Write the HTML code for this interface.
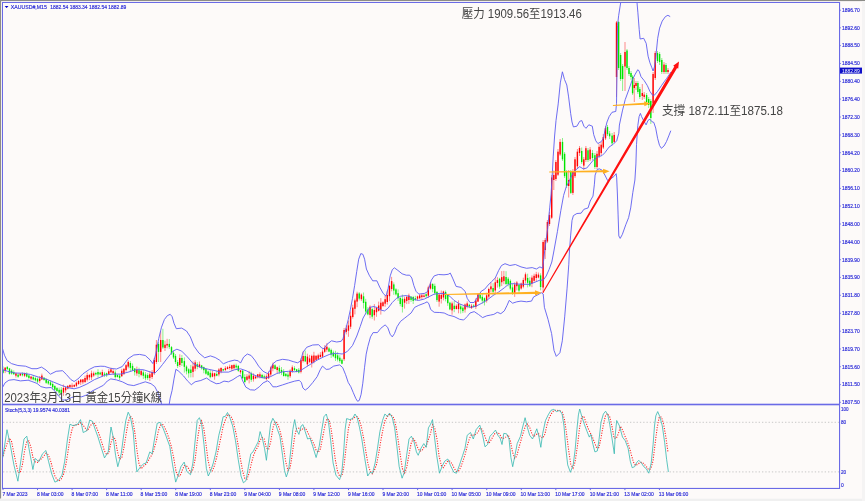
<!DOCTYPE html><html><head><meta charset="utf-8"><title>XAUUSD M15</title><style>html,body{margin:0;padding:0;background:#fdfaf9;overflow:hidden}body{width:865px;height:501px}</style></head><body><svg width="865" height="501" viewBox="0 0 865 501" style="display:block">
<rect width="865" height="501" fill="#fdfaf9"/>
<rect x="0" y="0" width="865" height="1.1" fill="#8c8c88"/>
<rect x="0" y="0" width="1.1" height="498.7" fill="#8c8c88"/>
<rect x="0" y="498.7" width="865" height="2.3" fill="#f0f0f0"/>
<rect x="862" y="1.1" width="3" height="500" fill="#f5f4f4"/>
<defs><clipPath id="cm"><rect x="2.5" y="2.5" width="836.5" height="401.5"/></clipPath><clipPath id="cs"><rect x="2.5" y="405" width="836.5" height="83"/></clipPath></defs>
<g clip-path="url(#cm)">
<line x1="3.00" y1="366.4" x2="3.00" y2="373.6" stroke="#00e400" stroke-width="0.6" stroke-opacity="0.75"/>
<rect x="2.30" y="369.9" width="1.4" height="2.9" fill="#00e400"/>
<line x1="5.16" y1="367.1" x2="5.16" y2="373.1" stroke="#ff0000" stroke-width="0.6" stroke-opacity="0.75"/>
<rect x="4.46" y="367.7" width="1.4" height="3.3" fill="#ff0000"/>
<line x1="7.32" y1="366.3" x2="7.32" y2="369.7" stroke="#00e400" stroke-width="0.6" stroke-opacity="0.75"/>
<rect x="6.62" y="366.8" width="1.4" height="2.4" fill="#00e400"/>
<line x1="9.48" y1="367.9" x2="9.48" y2="374.6" stroke="#00e400" stroke-width="0.6" stroke-opacity="0.75"/>
<rect x="8.78" y="368.4" width="1.4" height="5.4" fill="#00e400"/>
<line x1="11.64" y1="369.2" x2="11.64" y2="374.7" stroke="#00e400" stroke-width="0.6" stroke-opacity="0.75"/>
<rect x="10.94" y="370.6" width="1.4" height="3.0" fill="#00e400"/>
<line x1="13.79" y1="370.3" x2="13.79" y2="375.0" stroke="#00e400" stroke-width="0.6" stroke-opacity="0.75"/>
<rect x="13.09" y="372.3" width="1.4" height="1.9" fill="#00e400"/>
<line x1="15.95" y1="372.6" x2="15.95" y2="377.6" stroke="#ff0000" stroke-width="0.6" stroke-opacity="0.75"/>
<rect x="15.25" y="373.4" width="1.4" height="2.3" fill="#ff0000"/>
<line x1="18.11" y1="373.1" x2="18.11" y2="377.8" stroke="#00e400" stroke-width="0.6" stroke-opacity="0.75"/>
<rect x="17.41" y="374.6" width="1.4" height="2.2" fill="#00e400"/>
<line x1="20.27" y1="373.3" x2="20.27" y2="376.2" stroke="#ff0000" stroke-width="0.6" stroke-opacity="0.75"/>
<rect x="19.57" y="373.6" width="1.4" height="1.9" fill="#ff0000"/>
<line x1="22.43" y1="372.3" x2="22.43" y2="376.5" stroke="#00e400" stroke-width="0.6" stroke-opacity="0.75"/>
<rect x="21.73" y="373.7" width="1.4" height="1.6" fill="#00e400"/>
<line x1="24.59" y1="372.6" x2="24.59" y2="377.1" stroke="#ff0000" stroke-width="0.6" stroke-opacity="0.75"/>
<rect x="23.89" y="373.3" width="1.4" height="2.4" fill="#ff0000"/>
<line x1="26.75" y1="372.2" x2="26.75" y2="377.5" stroke="#00e400" stroke-width="0.6" stroke-opacity="0.75"/>
<rect x="26.05" y="373.9" width="1.4" height="2.8" fill="#00e400"/>
<line x1="28.91" y1="374.4" x2="28.91" y2="379.6" stroke="#00e400" stroke-width="0.6" stroke-opacity="0.75"/>
<rect x="28.21" y="375.5" width="1.4" height="2.4" fill="#00e400"/>
<line x1="31.07" y1="376.3" x2="31.07" y2="380.1" stroke="#ff0000" stroke-width="0.6" stroke-opacity="0.75"/>
<rect x="30.37" y="376.6" width="1.4" height="2.0" fill="#ff0000"/>
<line x1="33.23" y1="375.2" x2="33.23" y2="380.3" stroke="#00e400" stroke-width="0.6" stroke-opacity="0.75"/>
<rect x="32.53" y="377.2" width="1.4" height="2.2" fill="#00e400"/>
<line x1="35.38" y1="376.7" x2="35.38" y2="381.5" stroke="#00e400" stroke-width="0.6" stroke-opacity="0.75"/>
<rect x="34.68" y="378.1" width="1.4" height="2.2" fill="#00e400"/>
<line x1="37.54" y1="377.5" x2="37.54" y2="383.2" stroke="#00e400" stroke-width="0.6" stroke-opacity="0.75"/>
<rect x="36.84" y="378.7" width="1.4" height="2.9" fill="#00e400"/>
<line x1="39.70" y1="376.0" x2="39.70" y2="383.2" stroke="#ff0000" stroke-width="0.6" stroke-opacity="0.75"/>
<rect x="39.00" y="378.5" width="1.4" height="2.6" fill="#ff0000"/>
<line x1="41.86" y1="373.6" x2="41.86" y2="379.8" stroke="#ff0000" stroke-width="0.6" stroke-opacity="0.75"/>
<rect x="41.16" y="375.6" width="1.4" height="3.9" fill="#ff0000"/>
<line x1="44.02" y1="377.2" x2="44.02" y2="380.5" stroke="#00e400" stroke-width="0.6" stroke-opacity="0.75"/>
<rect x="43.32" y="377.7" width="1.4" height="2.4" fill="#00e400"/>
<line x1="46.18" y1="378.4" x2="46.18" y2="383.9" stroke="#00e400" stroke-width="0.6" stroke-opacity="0.75"/>
<rect x="45.48" y="379.2" width="1.4" height="3.6" fill="#00e400"/>
<line x1="48.34" y1="380.1" x2="48.34" y2="384.9" stroke="#00e400" stroke-width="0.6" stroke-opacity="0.75"/>
<rect x="47.64" y="381.2" width="1.4" height="2.3" fill="#00e400"/>
<line x1="50.50" y1="380.4" x2="50.50" y2="385.9" stroke="#00e400" stroke-width="0.6" stroke-opacity="0.75"/>
<rect x="49.80" y="382.4" width="1.4" height="2.7" fill="#00e400"/>
<line x1="52.66" y1="382.0" x2="52.66" y2="389.5" stroke="#00e400" stroke-width="0.6" stroke-opacity="0.75"/>
<rect x="51.96" y="384.0" width="1.4" height="3.3" fill="#00e400"/>
<line x1="54.82" y1="385.1" x2="54.82" y2="390.5" stroke="#00e400" stroke-width="0.6" stroke-opacity="0.75"/>
<rect x="54.12" y="386.0" width="1.4" height="3.7" fill="#00e400"/>
<line x1="56.97" y1="387.0" x2="56.97" y2="391.6" stroke="#00e400" stroke-width="0.6" stroke-opacity="0.75"/>
<rect x="56.27" y="388.1" width="1.4" height="3.1" fill="#00e400"/>
<line x1="59.13" y1="387.6" x2="59.13" y2="396.0" stroke="#00e400" stroke-width="0.6" stroke-opacity="0.75"/>
<rect x="58.43" y="389.8" width="1.4" height="2.8" fill="#00e400"/>
<line x1="61.29" y1="387.0" x2="61.29" y2="394.3" stroke="#00e400" stroke-width="0.6" stroke-opacity="0.75"/>
<rect x="60.59" y="389.7" width="1.4" height="3.9" fill="#00e400"/>
<line x1="63.45" y1="384.5" x2="63.45" y2="395.8" stroke="#ff0000" stroke-width="0.6" stroke-opacity="0.75"/>
<rect x="62.75" y="388.0" width="1.4" height="4.6" fill="#ff0000"/>
<line x1="65.61" y1="386.6" x2="65.61" y2="392.8" stroke="#ff0000" stroke-width="0.6" stroke-opacity="0.75"/>
<rect x="64.91" y="387.4" width="1.4" height="2.9" fill="#ff0000"/>
<line x1="67.77" y1="385.0" x2="67.77" y2="389.4" stroke="#ff0000" stroke-width="0.6" stroke-opacity="0.75"/>
<rect x="67.07" y="386.0" width="1.4" height="2.6" fill="#ff0000"/>
<line x1="69.93" y1="384.6" x2="69.93" y2="387.8" stroke="#ff0000" stroke-width="0.6" stroke-opacity="0.75"/>
<rect x="69.23" y="384.9" width="1.4" height="2.2" fill="#ff0000"/>
<line x1="72.09" y1="383.3" x2="72.09" y2="388.1" stroke="#ff0000" stroke-width="0.6" stroke-opacity="0.75"/>
<rect x="71.39" y="385.5" width="1.4" height="1.1" fill="#ff0000"/>
<line x1="74.25" y1="384.1" x2="74.25" y2="387.2" stroke="#ff0000" stroke-width="0.6" stroke-opacity="0.75"/>
<rect x="73.55" y="385.0" width="1.4" height="1.7" fill="#ff0000"/>
<line x1="76.41" y1="381.5" x2="76.41" y2="387.0" stroke="#ff0000" stroke-width="0.6" stroke-opacity="0.75"/>
<rect x="75.71" y="382.7" width="1.4" height="3.1" fill="#ff0000"/>
<line x1="78.56" y1="379.9" x2="78.56" y2="384.9" stroke="#ff0000" stroke-width="0.6" stroke-opacity="0.75"/>
<rect x="77.86" y="381.0" width="1.4" height="3.0" fill="#ff0000"/>
<line x1="80.72" y1="379.2" x2="80.72" y2="385.0" stroke="#ff0000" stroke-width="0.6" stroke-opacity="0.75"/>
<rect x="80.02" y="379.6" width="1.4" height="2.7" fill="#ff0000"/>
<line x1="82.88" y1="379.0" x2="82.88" y2="384.2" stroke="#ff0000" stroke-width="0.6" stroke-opacity="0.75"/>
<rect x="82.18" y="379.4" width="1.4" height="2.9" fill="#ff0000"/>
<line x1="85.04" y1="375.6" x2="85.04" y2="383.1" stroke="#ff0000" stroke-width="0.6" stroke-opacity="0.75"/>
<rect x="84.34" y="378.0" width="1.4" height="4.0" fill="#ff0000"/>
<line x1="87.20" y1="372.5" x2="87.20" y2="381.5" stroke="#ff0000" stroke-width="0.6" stroke-opacity="0.75"/>
<rect x="86.50" y="375.1" width="1.4" height="4.5" fill="#ff0000"/>
<line x1="89.36" y1="374.0" x2="89.36" y2="380.2" stroke="#ff0000" stroke-width="0.6" stroke-opacity="0.75"/>
<rect x="88.66" y="375.0" width="1.4" height="2.4" fill="#ff0000"/>
<line x1="91.52" y1="370.6" x2="91.52" y2="380.0" stroke="#ff0000" stroke-width="0.6" stroke-opacity="0.75"/>
<rect x="90.82" y="373.3" width="1.4" height="4.0" fill="#ff0000"/>
<line x1="93.68" y1="371.6" x2="93.68" y2="376.9" stroke="#ff0000" stroke-width="0.6" stroke-opacity="0.75"/>
<rect x="92.98" y="373.4" width="1.4" height="2.1" fill="#ff0000"/>
<line x1="95.84" y1="371.8" x2="95.84" y2="375.5" stroke="#00e400" stroke-width="0.6" stroke-opacity="0.75"/>
<rect x="95.14" y="373.0" width="1.4" height="1.4" fill="#00e400"/>
<line x1="98.00" y1="369.2" x2="98.00" y2="377.6" stroke="#00e400" stroke-width="0.6" stroke-opacity="0.75"/>
<rect x="97.30" y="372.0" width="1.4" height="2.5" fill="#00e400"/>
<line x1="100.15" y1="371.7" x2="100.15" y2="375.3" stroke="#00e400" stroke-width="0.6" stroke-opacity="0.75"/>
<rect x="99.45" y="372.6" width="1.4" height="1.8" fill="#00e400"/>
<line x1="102.31" y1="369.7" x2="102.31" y2="377.0" stroke="#ff0000" stroke-width="0.6" stroke-opacity="0.75"/>
<rect x="101.61" y="372.1" width="1.4" height="3.5" fill="#ff0000"/>
<line x1="104.47" y1="371.9" x2="104.47" y2="377.1" stroke="#00e400" stroke-width="0.6" stroke-opacity="0.75"/>
<rect x="103.77" y="373.6" width="1.4" height="1.3" fill="#00e400"/>
<line x1="106.63" y1="372.6" x2="106.63" y2="377.0" stroke="#00e400" stroke-width="0.6" stroke-opacity="0.75"/>
<rect x="105.93" y="373.2" width="1.4" height="2.0" fill="#00e400"/>
<line x1="108.79" y1="369.0" x2="108.79" y2="375.0" stroke="#ff0000" stroke-width="0.6" stroke-opacity="0.75"/>
<rect x="108.09" y="371.2" width="1.4" height="2.7" fill="#ff0000"/>
<line x1="110.95" y1="367.7" x2="110.95" y2="372.9" stroke="#ff0000" stroke-width="0.6" stroke-opacity="0.75"/>
<rect x="110.25" y="369.4" width="1.4" height="2.9" fill="#ff0000"/>
<line x1="113.11" y1="369.0" x2="113.11" y2="374.9" stroke="#ff0000" stroke-width="0.6" stroke-opacity="0.75"/>
<rect x="112.41" y="371.1" width="1.4" height="2.0" fill="#ff0000"/>
<line x1="115.27" y1="370.3" x2="115.27" y2="378.7" stroke="#00e400" stroke-width="0.6" stroke-opacity="0.75"/>
<rect x="114.57" y="372.5" width="1.4" height="4.6" fill="#00e400"/>
<line x1="117.43" y1="374.5" x2="117.43" y2="377.4" stroke="#00e400" stroke-width="0.6" stroke-opacity="0.75"/>
<rect x="116.73" y="375.0" width="1.4" height="2.1" fill="#00e400"/>
<line x1="119.59" y1="374.3" x2="119.59" y2="380.0" stroke="#00e400" stroke-width="0.6" stroke-opacity="0.75"/>
<rect x="118.89" y="375.6" width="1.4" height="2.3" fill="#00e400"/>
<line x1="121.74" y1="368.8" x2="121.74" y2="376.9" stroke="#ff0000" stroke-width="0.6" stroke-opacity="0.75"/>
<rect x="121.04" y="370.7" width="1.4" height="5.5" fill="#ff0000"/>
<line x1="123.90" y1="368.0" x2="123.90" y2="374.9" stroke="#ff0000" stroke-width="0.6" stroke-opacity="0.75"/>
<rect x="123.20" y="368.9" width="1.4" height="5.2" fill="#ff0000"/>
<line x1="126.06" y1="364.1" x2="126.06" y2="371.6" stroke="#ff0000" stroke-width="0.6" stroke-opacity="0.75"/>
<rect x="125.36" y="365.2" width="1.4" height="4.9" fill="#ff0000"/>
<line x1="128.22" y1="360.3" x2="128.22" y2="368.4" stroke="#ff0000" stroke-width="0.6" stroke-opacity="0.75"/>
<rect x="127.52" y="361.9" width="1.4" height="4.7" fill="#ff0000"/>
<line x1="130.38" y1="361.1" x2="130.38" y2="371.6" stroke="#00e400" stroke-width="0.6" stroke-opacity="0.75"/>
<rect x="129.68" y="363.0" width="1.4" height="4.9" fill="#00e400"/>
<line x1="132.54" y1="363.5" x2="132.54" y2="370.9" stroke="#00e400" stroke-width="0.6" stroke-opacity="0.75"/>
<rect x="131.84" y="365.9" width="1.4" height="4.5" fill="#00e400"/>
<line x1="134.70" y1="368.0" x2="134.70" y2="375.6" stroke="#00e400" stroke-width="0.6" stroke-opacity="0.75"/>
<rect x="134.00" y="368.5" width="1.4" height="3.7" fill="#00e400"/>
<line x1="136.86" y1="366.6" x2="136.86" y2="375.9" stroke="#ff0000" stroke-width="0.6" stroke-opacity="0.75"/>
<rect x="136.16" y="369.8" width="1.4" height="3.6" fill="#ff0000"/>
<line x1="139.02" y1="367.7" x2="139.02" y2="377.3" stroke="#00e400" stroke-width="0.6" stroke-opacity="0.75"/>
<rect x="138.32" y="370.2" width="1.4" height="3.7" fill="#00e400"/>
<line x1="141.18" y1="369.8" x2="141.18" y2="376.3" stroke="#ff0000" stroke-width="0.6" stroke-opacity="0.75"/>
<rect x="140.48" y="371.1" width="1.4" height="3.8" fill="#ff0000"/>
<line x1="143.33" y1="370.1" x2="143.33" y2="378.9" stroke="#00e400" stroke-width="0.6" stroke-opacity="0.75"/>
<rect x="142.63" y="372.4" width="1.4" height="3.4" fill="#00e400"/>
<line x1="145.49" y1="372.1" x2="145.49" y2="380.2" stroke="#00e400" stroke-width="0.6" stroke-opacity="0.75"/>
<rect x="144.79" y="374.5" width="1.4" height="3.7" fill="#00e400"/>
<line x1="147.65" y1="373.1" x2="147.65" y2="380.0" stroke="#00e400" stroke-width="0.6" stroke-opacity="0.75"/>
<rect x="146.95" y="375.1" width="1.4" height="3.0" fill="#00e400"/>
<line x1="149.81" y1="371.3" x2="149.81" y2="381.0" stroke="#ff0000" stroke-width="0.6" stroke-opacity="0.75"/>
<rect x="149.11" y="374.3" width="1.4" height="3.6" fill="#ff0000"/>
<line x1="184.36" y1="357.4" x2="184.36" y2="372.6" stroke="#00e400" stroke-width="0.6" stroke-opacity="0.75"/>
<rect x="183.66" y="361.1" width="1.4" height="5.7" fill="#00e400"/>
<line x1="186.51" y1="365.3" x2="186.51" y2="374.4" stroke="#00e400" stroke-width="0.6" stroke-opacity="0.75"/>
<rect x="185.81" y="366.6" width="1.4" height="4.7" fill="#00e400"/>
<line x1="188.67" y1="368.2" x2="188.67" y2="377.7" stroke="#00e400" stroke-width="0.6" stroke-opacity="0.75"/>
<rect x="187.97" y="369.3" width="1.4" height="4.0" fill="#00e400"/>
<line x1="190.83" y1="364.9" x2="190.83" y2="377.4" stroke="#00e400" stroke-width="0.6" stroke-opacity="0.75"/>
<rect x="190.13" y="369.5" width="1.4" height="3.5" fill="#00e400"/>
<line x1="192.99" y1="361.4" x2="192.99" y2="377.3" stroke="#ff0000" stroke-width="0.6" stroke-opacity="0.75"/>
<rect x="192.29" y="366.4" width="1.4" height="5.5" fill="#ff0000"/>
<line x1="195.15" y1="360.2" x2="195.15" y2="371.2" stroke="#ff0000" stroke-width="0.6" stroke-opacity="0.75"/>
<rect x="194.45" y="362.4" width="1.4" height="6.3" fill="#ff0000"/>
<line x1="197.31" y1="362.2" x2="197.31" y2="369.2" stroke="#00e400" stroke-width="0.6" stroke-opacity="0.75"/>
<rect x="196.61" y="364.3" width="1.4" height="2.5" fill="#00e400"/>
<line x1="199.47" y1="361.5" x2="199.47" y2="367.6" stroke="#ff0000" stroke-width="0.6" stroke-opacity="0.75"/>
<rect x="198.77" y="364.4" width="1.4" height="2.8" fill="#ff0000"/>
<line x1="201.63" y1="364.9" x2="201.63" y2="369.7" stroke="#00e400" stroke-width="0.6" stroke-opacity="0.75"/>
<rect x="200.93" y="365.4" width="1.4" height="2.9" fill="#00e400"/>
<line x1="203.79" y1="366.6" x2="203.79" y2="373.3" stroke="#00e400" stroke-width="0.6" stroke-opacity="0.75"/>
<rect x="203.09" y="367.1" width="1.4" height="3.1" fill="#00e400"/>
<line x1="205.95" y1="368.5" x2="205.95" y2="374.7" stroke="#00e400" stroke-width="0.6" stroke-opacity="0.75"/>
<rect x="205.25" y="369.1" width="1.4" height="4.6" fill="#00e400"/>
<line x1="208.10" y1="370.4" x2="208.10" y2="375.9" stroke="#00e400" stroke-width="0.6" stroke-opacity="0.75"/>
<rect x="207.41" y="371.5" width="1.4" height="3.6" fill="#00e400"/>
<line x1="210.26" y1="369.9" x2="210.26" y2="378.4" stroke="#00e400" stroke-width="0.6" stroke-opacity="0.75"/>
<rect x="209.56" y="372.8" width="1.4" height="4.4" fill="#00e400"/>
<line x1="212.42" y1="370.7" x2="212.42" y2="377.3" stroke="#ff0000" stroke-width="0.6" stroke-opacity="0.75"/>
<rect x="211.72" y="373.3" width="1.4" height="3.4" fill="#ff0000"/>
<line x1="214.58" y1="372.7" x2="214.58" y2="379.7" stroke="#ff0000" stroke-width="0.6" stroke-opacity="0.75"/>
<rect x="213.88" y="373.3" width="1.4" height="3.0" fill="#ff0000"/>
<line x1="216.74" y1="370.8" x2="216.74" y2="376.3" stroke="#00e400" stroke-width="0.6" stroke-opacity="0.75"/>
<rect x="216.04" y="373.9" width="1.4" height="1.8" fill="#00e400"/>
<line x1="218.90" y1="368.1" x2="218.90" y2="376.4" stroke="#ff0000" stroke-width="0.6" stroke-opacity="0.75"/>
<rect x="218.20" y="369.5" width="1.4" height="4.9" fill="#ff0000"/>
<line x1="221.06" y1="367.3" x2="221.06" y2="373.3" stroke="#ff0000" stroke-width="0.6" stroke-opacity="0.75"/>
<rect x="220.36" y="368.0" width="1.4" height="3.6" fill="#ff0000"/>
<line x1="223.22" y1="368.7" x2="223.22" y2="371.2" stroke="#00e400" stroke-width="0.6" stroke-opacity="0.75"/>
<rect x="222.52" y="369.1" width="1.4" height="1.4" fill="#00e400"/>
<line x1="225.38" y1="366.2" x2="225.38" y2="371.0" stroke="#ff0000" stroke-width="0.6" stroke-opacity="0.75"/>
<rect x="224.68" y="368.2" width="1.4" height="1.8" fill="#ff0000"/>
<line x1="227.54" y1="366.0" x2="227.54" y2="369.3" stroke="#ff0000" stroke-width="0.6" stroke-opacity="0.75"/>
<rect x="226.84" y="367.2" width="1.4" height="1.8" fill="#ff0000"/>
<line x1="229.69" y1="364.6" x2="229.69" y2="369.7" stroke="#ff0000" stroke-width="0.6" stroke-opacity="0.75"/>
<rect x="229.00" y="366.8" width="1.4" height="1.2" fill="#ff0000"/>
<line x1="231.85" y1="364.7" x2="231.85" y2="371.0" stroke="#ff0000" stroke-width="0.6" stroke-opacity="0.75"/>
<rect x="231.15" y="365.2" width="1.4" height="3.5" fill="#ff0000"/>
<line x1="234.01" y1="363.8" x2="234.01" y2="369.6" stroke="#ff0000" stroke-width="0.6" stroke-opacity="0.75"/>
<rect x="233.31" y="365.0" width="1.4" height="3.2" fill="#ff0000"/>
<line x1="236.17" y1="363.6" x2="236.17" y2="369.2" stroke="#00e400" stroke-width="0.6" stroke-opacity="0.75"/>
<rect x="235.47" y="365.6" width="1.4" height="1.8" fill="#00e400"/>
<line x1="238.33" y1="364.9" x2="238.33" y2="371.8" stroke="#00e400" stroke-width="0.6" stroke-opacity="0.75"/>
<rect x="237.63" y="365.9" width="1.4" height="4.9" fill="#00e400"/>
<line x1="240.49" y1="370.0" x2="240.49" y2="373.9" stroke="#ff0000" stroke-width="0.6" stroke-opacity="0.75"/>
<rect x="239.79" y="370.4" width="1.4" height="1.8" fill="#ff0000"/>
<line x1="242.65" y1="369.9" x2="242.65" y2="378.8" stroke="#00e400" stroke-width="0.6" stroke-opacity="0.75"/>
<rect x="241.95" y="370.7" width="1.4" height="7.6" fill="#00e400"/>
<line x1="244.81" y1="374.1" x2="244.81" y2="383.4" stroke="#00e400" stroke-width="0.6" stroke-opacity="0.75"/>
<rect x="244.11" y="377.0" width="1.4" height="5.0" fill="#00e400"/>
<line x1="246.97" y1="374.1" x2="246.97" y2="380.9" stroke="#ff0000" stroke-width="0.6" stroke-opacity="0.75"/>
<rect x="246.27" y="376.5" width="1.4" height="3.3" fill="#ff0000"/>
<line x1="249.13" y1="370.8" x2="249.13" y2="383.4" stroke="#ff0000" stroke-width="0.6" stroke-opacity="0.75"/>
<rect x="248.43" y="375.5" width="1.4" height="3.2" fill="#ff0000"/>
<line x1="251.28" y1="371.7" x2="251.28" y2="381.9" stroke="#00e400" stroke-width="0.6" stroke-opacity="0.75"/>
<rect x="250.58" y="373.5" width="1.4" height="6.3" fill="#00e400"/>
<line x1="253.44" y1="373.3" x2="253.44" y2="381.6" stroke="#ff0000" stroke-width="0.6" stroke-opacity="0.75"/>
<rect x="252.74" y="375.7" width="1.4" height="3.5" fill="#ff0000"/>
<line x1="255.60" y1="375.3" x2="255.60" y2="379.1" stroke="#ff0000" stroke-width="0.6" stroke-opacity="0.75"/>
<rect x="254.90" y="376.6" width="1.4" height="1.7" fill="#ff0000"/>
<line x1="257.76" y1="373.9" x2="257.76" y2="378.4" stroke="#ff0000" stroke-width="0.6" stroke-opacity="0.75"/>
<rect x="257.06" y="374.3" width="1.4" height="2.9" fill="#ff0000"/>
<line x1="259.92" y1="372.3" x2="259.92" y2="378.5" stroke="#ff0000" stroke-width="0.6" stroke-opacity="0.75"/>
<rect x="259.22" y="374.3" width="1.4" height="2.4" fill="#ff0000"/>
<line x1="262.08" y1="373.8" x2="262.08" y2="378.5" stroke="#00e400" stroke-width="0.6" stroke-opacity="0.75"/>
<rect x="261.38" y="374.9" width="1.4" height="2.8" fill="#00e400"/>
<line x1="264.24" y1="374.6" x2="264.24" y2="379.1" stroke="#00e400" stroke-width="0.6" stroke-opacity="0.75"/>
<rect x="263.54" y="376.3" width="1.4" height="1.3" fill="#00e400"/>
<line x1="266.40" y1="374.3" x2="266.40" y2="380.5" stroke="#ff0000" stroke-width="0.6" stroke-opacity="0.75"/>
<rect x="265.70" y="376.3" width="1.4" height="2.7" fill="#ff0000"/>
<line x1="268.56" y1="371.5" x2="268.56" y2="378.8" stroke="#ff0000" stroke-width="0.6" stroke-opacity="0.75"/>
<rect x="267.86" y="373.4" width="1.4" height="4.9" fill="#ff0000"/>
<line x1="270.72" y1="366.3" x2="270.72" y2="376.5" stroke="#ff0000" stroke-width="0.6" stroke-opacity="0.75"/>
<rect x="270.02" y="367.5" width="1.4" height="7.0" fill="#ff0000"/>
<line x1="272.88" y1="362.6" x2="272.88" y2="371.3" stroke="#ff0000" stroke-width="0.6" stroke-opacity="0.75"/>
<rect x="272.18" y="364.6" width="1.4" height="3.8" fill="#ff0000"/>
<line x1="275.03" y1="364.2" x2="275.03" y2="369.5" stroke="#00e400" stroke-width="0.6" stroke-opacity="0.75"/>
<rect x="274.33" y="365.3" width="1.4" height="3.7" fill="#00e400"/>
<line x1="277.19" y1="366.5" x2="277.19" y2="373.1" stroke="#ff0000" stroke-width="0.6" stroke-opacity="0.75"/>
<rect x="276.49" y="367.2" width="1.4" height="2.8" fill="#ff0000"/>
<line x1="279.35" y1="365.5" x2="279.35" y2="374.1" stroke="#00e400" stroke-width="0.6" stroke-opacity="0.75"/>
<rect x="278.65" y="367.9" width="1.4" height="3.7" fill="#00e400"/>
<line x1="281.51" y1="367.0" x2="281.51" y2="375.1" stroke="#00e400" stroke-width="0.6" stroke-opacity="0.75"/>
<rect x="280.81" y="369.9" width="1.4" height="2.4" fill="#00e400"/>
<line x1="283.67" y1="369.1" x2="283.67" y2="376.6" stroke="#00e400" stroke-width="0.6" stroke-opacity="0.75"/>
<rect x="282.97" y="371.5" width="1.4" height="4.5" fill="#00e400"/>
<line x1="285.83" y1="373.2" x2="285.83" y2="377.2" stroke="#00e400" stroke-width="0.6" stroke-opacity="0.75"/>
<rect x="285.13" y="373.8" width="1.4" height="2.2" fill="#00e400"/>
<line x1="287.99" y1="372.1" x2="287.99" y2="379.8" stroke="#00e400" stroke-width="0.6" stroke-opacity="0.75"/>
<rect x="287.29" y="374.6" width="1.4" height="2.0" fill="#00e400"/>
<line x1="290.15" y1="369.3" x2="290.15" y2="377.8" stroke="#ff0000" stroke-width="0.6" stroke-opacity="0.75"/>
<rect x="289.45" y="370.7" width="1.4" height="5.5" fill="#ff0000"/>
<line x1="292.31" y1="365.4" x2="292.31" y2="372.9" stroke="#ff0000" stroke-width="0.6" stroke-opacity="0.75"/>
<rect x="291.61" y="367.3" width="1.4" height="3.7" fill="#ff0000"/>
<line x1="294.46" y1="366.2" x2="294.46" y2="371.0" stroke="#00e400" stroke-width="0.6" stroke-opacity="0.75"/>
<rect x="293.76" y="368.2" width="1.4" height="1.8" fill="#00e400"/>
<line x1="296.62" y1="368.9" x2="296.62" y2="372.4" stroke="#00e400" stroke-width="0.6" stroke-opacity="0.75"/>
<rect x="295.92" y="369.3" width="1.4" height="2.2" fill="#00e400"/>
<line x1="298.78" y1="368.0" x2="298.78" y2="373.5" stroke="#00e400" stroke-width="0.6" stroke-opacity="0.75"/>
<rect x="298.08" y="369.8" width="1.4" height="2.7" fill="#00e400"/>
<line x1="300.94" y1="358.2" x2="300.94" y2="373.4" stroke="#ff0000" stroke-width="0.6" stroke-opacity="0.75"/>
<rect x="300.24" y="359.9" width="1.4" height="11.9" fill="#ff0000"/>
<line x1="303.10" y1="351.5" x2="303.10" y2="362.5" stroke="#ff0000" stroke-width="0.6" stroke-opacity="0.75"/>
<rect x="302.40" y="356.0" width="1.4" height="5.1" fill="#ff0000"/>
<line x1="305.26" y1="350.6" x2="305.26" y2="362.1" stroke="#00e400" stroke-width="0.6" stroke-opacity="0.75"/>
<rect x="304.56" y="356.0" width="1.4" height="5.4" fill="#00e400"/>
<line x1="307.42" y1="353.7" x2="307.42" y2="366.3" stroke="#ff0000" stroke-width="0.6" stroke-opacity="0.75"/>
<rect x="306.72" y="356.6" width="1.4" height="7.7" fill="#ff0000"/>
<line x1="309.58" y1="354.9" x2="309.58" y2="363.2" stroke="#ff0000" stroke-width="0.6" stroke-opacity="0.75"/>
<rect x="308.88" y="358.4" width="1.4" height="3.5" fill="#ff0000"/>
<line x1="311.74" y1="354.7" x2="311.74" y2="367.5" stroke="#ff0000" stroke-width="0.6" stroke-opacity="0.75"/>
<rect x="311.04" y="355.9" width="1.4" height="7.1" fill="#ff0000"/>
<line x1="313.90" y1="351.8" x2="313.90" y2="363.4" stroke="#ff0000" stroke-width="0.6" stroke-opacity="0.75"/>
<rect x="313.20" y="355.5" width="1.4" height="6.3" fill="#ff0000"/>
<line x1="316.05" y1="355.2" x2="316.05" y2="360.5" stroke="#ff0000" stroke-width="0.6" stroke-opacity="0.75"/>
<rect x="315.35" y="355.8" width="1.4" height="4.1" fill="#ff0000"/>
<line x1="318.21" y1="353.7" x2="318.21" y2="359.8" stroke="#ff0000" stroke-width="0.6" stroke-opacity="0.75"/>
<rect x="317.51" y="355.3" width="1.4" height="3.5" fill="#ff0000"/>
<line x1="320.37" y1="352.1" x2="320.37" y2="357.5" stroke="#ff0000" stroke-width="0.6" stroke-opacity="0.75"/>
<rect x="319.67" y="354.8" width="1.4" height="2.3" fill="#ff0000"/>
<line x1="322.53" y1="349.4" x2="322.53" y2="357.1" stroke="#ff0000" stroke-width="0.6" stroke-opacity="0.75"/>
<rect x="321.83" y="351.6" width="1.4" height="5.0" fill="#ff0000"/>
<line x1="324.69" y1="345.2" x2="324.69" y2="352.9" stroke="#ff0000" stroke-width="0.6" stroke-opacity="0.75"/>
<rect x="323.99" y="347.8" width="1.4" height="4.0" fill="#ff0000"/>
<line x1="326.85" y1="343.2" x2="326.85" y2="351.8" stroke="#ff0000" stroke-width="0.6" stroke-opacity="0.75"/>
<rect x="326.15" y="346.7" width="1.4" height="2.9" fill="#ff0000"/>
<line x1="329.01" y1="347.1" x2="329.01" y2="352.2" stroke="#00e400" stroke-width="0.6" stroke-opacity="0.75"/>
<rect x="328.31" y="348.4" width="1.4" height="3.2" fill="#00e400"/>
<line x1="331.17" y1="348.6" x2="331.17" y2="358.0" stroke="#00e400" stroke-width="0.6" stroke-opacity="0.75"/>
<rect x="330.47" y="349.9" width="1.4" height="4.5" fill="#00e400"/>
<line x1="333.33" y1="350.6" x2="333.33" y2="357.3" stroke="#00e400" stroke-width="0.6" stroke-opacity="0.75"/>
<rect x="332.63" y="352.5" width="1.4" height="3.8" fill="#00e400"/>
<line x1="335.49" y1="350.8" x2="335.49" y2="361.0" stroke="#00e400" stroke-width="0.6" stroke-opacity="0.75"/>
<rect x="334.79" y="353.8" width="1.4" height="4.4" fill="#00e400"/>
<line x1="337.64" y1="352.2" x2="337.64" y2="361.5" stroke="#00e400" stroke-width="0.6" stroke-opacity="0.75"/>
<rect x="336.94" y="355.3" width="1.4" height="4.2" fill="#00e400"/>
<line x1="339.80" y1="355.2" x2="339.80" y2="362.8" stroke="#00e400" stroke-width="0.6" stroke-opacity="0.75"/>
<rect x="339.10" y="357.7" width="1.4" height="3.4" fill="#00e400"/>
<line x1="341.96" y1="358.4" x2="341.96" y2="364.2" stroke="#00e400" stroke-width="0.6" stroke-opacity="0.75"/>
<rect x="341.26" y="359.8" width="1.4" height="3.9" fill="#00e400"/>
<line x1="346.28" y1="325.2" x2="346.28" y2="334.4" stroke="#ff0000" stroke-width="0.6" stroke-opacity="0.75"/>
<rect x="345.58" y="328.5" width="1.4" height="3.4" fill="#ff0000"/>
<line x1="348.44" y1="320.7" x2="348.44" y2="336.8" stroke="#ff0000" stroke-width="0.6" stroke-opacity="0.75"/>
<rect x="347.74" y="325.4" width="1.4" height="5.3" fill="#ff0000"/>
<line x1="350.60" y1="311.5" x2="350.60" y2="329.0" stroke="#ff0000" stroke-width="0.6" stroke-opacity="0.75"/>
<rect x="349.90" y="315.8" width="1.4" height="10.9" fill="#ff0000"/>
<line x1="352.76" y1="304.7" x2="352.76" y2="318.6" stroke="#ff0000" stroke-width="0.6" stroke-opacity="0.75"/>
<rect x="352.06" y="307.6" width="1.4" height="9.4" fill="#ff0000"/>
<line x1="354.92" y1="298.6" x2="354.92" y2="314.4" stroke="#ff0000" stroke-width="0.6" stroke-opacity="0.75"/>
<rect x="354.22" y="300.4" width="1.4" height="8.4" fill="#ff0000"/>
<line x1="357.08" y1="291.7" x2="357.08" y2="307.2" stroke="#ff0000" stroke-width="0.6" stroke-opacity="0.75"/>
<rect x="356.38" y="293.6" width="1.4" height="8.0" fill="#ff0000"/>
<line x1="359.23" y1="292.0" x2="359.23" y2="300.4" stroke="#00e400" stroke-width="0.6" stroke-opacity="0.75"/>
<rect x="358.53" y="293.4" width="1.4" height="5.2" fill="#00e400"/>
<line x1="361.39" y1="293.4" x2="361.39" y2="301.1" stroke="#ff0000" stroke-width="0.6" stroke-opacity="0.75"/>
<rect x="360.69" y="294.6" width="1.4" height="4.6" fill="#ff0000"/>
<line x1="363.55" y1="292.5" x2="363.55" y2="308.5" stroke="#00e400" stroke-width="0.6" stroke-opacity="0.75"/>
<rect x="362.85" y="296.3" width="1.4" height="6.7" fill="#00e400"/>
<line x1="365.71" y1="298.8" x2="365.71" y2="314.4" stroke="#00e400" stroke-width="0.6" stroke-opacity="0.75"/>
<rect x="365.01" y="301.8" width="1.4" height="9.7" fill="#00e400"/>
<line x1="367.87" y1="307.1" x2="367.87" y2="315.4" stroke="#00e400" stroke-width="0.6" stroke-opacity="0.75"/>
<rect x="367.17" y="309.6" width="1.4" height="4.8" fill="#00e400"/>
<line x1="370.03" y1="305.3" x2="370.03" y2="318.3" stroke="#ff0000" stroke-width="0.6" stroke-opacity="0.75"/>
<rect x="369.33" y="306.7" width="1.4" height="8.2" fill="#ff0000"/>
<line x1="372.19" y1="307.2" x2="372.19" y2="318.8" stroke="#00e400" stroke-width="0.6" stroke-opacity="0.75"/>
<rect x="371.49" y="309.1" width="1.4" height="7.6" fill="#00e400"/>
<line x1="374.35" y1="304.1" x2="374.35" y2="320.5" stroke="#ff0000" stroke-width="0.6" stroke-opacity="0.75"/>
<rect x="373.65" y="310.0" width="1.4" height="5.2" fill="#ff0000"/>
<line x1="376.51" y1="307.0" x2="376.51" y2="316.8" stroke="#ff0000" stroke-width="0.6" stroke-opacity="0.75"/>
<rect x="375.81" y="307.8" width="1.4" height="4.4" fill="#ff0000"/>
<line x1="378.67" y1="301.6" x2="378.67" y2="311.5" stroke="#ff0000" stroke-width="0.6" stroke-opacity="0.75"/>
<rect x="377.97" y="305.5" width="1.4" height="5.3" fill="#ff0000"/>
<line x1="380.82" y1="298.1" x2="380.82" y2="314.6" stroke="#ff0000" stroke-width="0.6" stroke-opacity="0.75"/>
<rect x="380.12" y="302.7" width="1.4" height="7.1" fill="#ff0000"/>
<line x1="382.98" y1="301.3" x2="382.98" y2="307.1" stroke="#ff0000" stroke-width="0.6" stroke-opacity="0.75"/>
<rect x="382.28" y="302.3" width="1.4" height="3.7" fill="#ff0000"/>
<line x1="385.14" y1="295.3" x2="385.14" y2="306.8" stroke="#ff0000" stroke-width="0.6" stroke-opacity="0.75"/>
<rect x="384.44" y="299.2" width="1.4" height="4.5" fill="#ff0000"/>
<line x1="387.30" y1="291.1" x2="387.30" y2="304.6" stroke="#ff0000" stroke-width="0.6" stroke-opacity="0.75"/>
<rect x="386.60" y="295.0" width="1.4" height="7.0" fill="#ff0000"/>
<line x1="389.46" y1="285.1" x2="389.46" y2="301.2" stroke="#ff0000" stroke-width="0.6" stroke-opacity="0.75"/>
<rect x="388.76" y="285.9" width="1.4" height="10.3" fill="#ff0000"/>
<line x1="391.62" y1="276.9" x2="391.62" y2="291.3" stroke="#ff0000" stroke-width="0.6" stroke-opacity="0.75"/>
<rect x="390.92" y="281.1" width="1.4" height="7.9" fill="#ff0000"/>
<line x1="393.78" y1="282.4" x2="393.78" y2="294.8" stroke="#00e400" stroke-width="0.6" stroke-opacity="0.75"/>
<rect x="393.08" y="284.4" width="1.4" height="6.2" fill="#00e400"/>
<line x1="395.94" y1="288.2" x2="395.94" y2="295.5" stroke="#00e400" stroke-width="0.6" stroke-opacity="0.75"/>
<rect x="395.24" y="289.4" width="1.4" height="5.0" fill="#00e400"/>
<line x1="398.10" y1="289.4" x2="398.10" y2="301.0" stroke="#00e400" stroke-width="0.6" stroke-opacity="0.75"/>
<rect x="397.40" y="293.2" width="1.4" height="5.0" fill="#00e400"/>
<line x1="400.26" y1="297.1" x2="400.26" y2="306.3" stroke="#00e400" stroke-width="0.6" stroke-opacity="0.75"/>
<rect x="399.56" y="297.9" width="1.4" height="6.1" fill="#00e400"/>
<line x1="402.41" y1="294.6" x2="402.41" y2="312.5" stroke="#00e400" stroke-width="0.6" stroke-opacity="0.75"/>
<rect x="401.71" y="298.8" width="1.4" height="8.1" fill="#00e400"/>
<line x1="404.57" y1="296.8" x2="404.57" y2="308.6" stroke="#ff0000" stroke-width="0.6" stroke-opacity="0.75"/>
<rect x="403.87" y="298.8" width="1.4" height="3.9" fill="#ff0000"/>
<line x1="406.73" y1="296.1" x2="406.73" y2="304.1" stroke="#ff0000" stroke-width="0.6" stroke-opacity="0.75"/>
<rect x="406.03" y="296.8" width="1.4" height="4.1" fill="#ff0000"/>
<line x1="408.89" y1="293.6" x2="408.89" y2="303.9" stroke="#ff0000" stroke-width="0.6" stroke-opacity="0.75"/>
<rect x="408.19" y="295.5" width="1.4" height="4.5" fill="#ff0000"/>
<line x1="411.05" y1="296.0" x2="411.05" y2="302.0" stroke="#00e400" stroke-width="0.6" stroke-opacity="0.75"/>
<rect x="410.35" y="296.7" width="1.4" height="3.2" fill="#00e400"/>
<line x1="413.21" y1="295.9" x2="413.21" y2="304.0" stroke="#00e400" stroke-width="0.6" stroke-opacity="0.75"/>
<rect x="412.51" y="297.0" width="1.4" height="3.9" fill="#00e400"/>
<line x1="415.37" y1="295.8" x2="415.37" y2="300.6" stroke="#00e400" stroke-width="0.6" stroke-opacity="0.75"/>
<rect x="414.67" y="298.2" width="1.4" height="1.5" fill="#00e400"/>
<line x1="417.53" y1="295.7" x2="417.53" y2="300.5" stroke="#ff0000" stroke-width="0.6" stroke-opacity="0.75"/>
<rect x="416.83" y="296.4" width="1.4" height="2.3" fill="#ff0000"/>
<line x1="419.69" y1="294.1" x2="419.69" y2="298.9" stroke="#ff0000" stroke-width="0.6" stroke-opacity="0.75"/>
<rect x="418.99" y="295.4" width="1.4" height="2.9" fill="#ff0000"/>
<line x1="421.85" y1="293.7" x2="421.85" y2="299.3" stroke="#ff0000" stroke-width="0.6" stroke-opacity="0.75"/>
<rect x="421.15" y="295.3" width="1.4" height="1.8" fill="#ff0000"/>
<line x1="424.00" y1="293.3" x2="424.00" y2="297.4" stroke="#ff0000" stroke-width="0.6" stroke-opacity="0.75"/>
<rect x="423.30" y="295.5" width="1.4" height="1.4" fill="#ff0000"/>
<line x1="426.16" y1="293.2" x2="426.16" y2="298.1" stroke="#00e400" stroke-width="0.6" stroke-opacity="0.75"/>
<rect x="425.46" y="294.2" width="1.4" height="1.9" fill="#00e400"/>
<line x1="428.32" y1="285.7" x2="428.32" y2="297.9" stroke="#ff0000" stroke-width="0.6" stroke-opacity="0.75"/>
<rect x="427.62" y="287.4" width="1.4" height="8.3" fill="#ff0000"/>
<line x1="430.48" y1="282.1" x2="430.48" y2="289.6" stroke="#ff0000" stroke-width="0.6" stroke-opacity="0.75"/>
<rect x="429.78" y="283.6" width="1.4" height="5.0" fill="#ff0000"/>
<line x1="432.64" y1="283.3" x2="432.64" y2="292.3" stroke="#00e400" stroke-width="0.6" stroke-opacity="0.75"/>
<rect x="431.94" y="283.9" width="1.4" height="5.2" fill="#00e400"/>
<line x1="434.80" y1="283.6" x2="434.80" y2="295.1" stroke="#00e400" stroke-width="0.6" stroke-opacity="0.75"/>
<rect x="434.10" y="285.9" width="1.4" height="7.1" fill="#00e400"/>
<line x1="436.96" y1="291.3" x2="436.96" y2="302.0" stroke="#00e400" stroke-width="0.6" stroke-opacity="0.75"/>
<rect x="436.26" y="291.8" width="1.4" height="8.3" fill="#00e400"/>
<line x1="439.12" y1="293.5" x2="439.12" y2="306.7" stroke="#ff0000" stroke-width="0.6" stroke-opacity="0.75"/>
<rect x="438.42" y="294.6" width="1.4" height="7.0" fill="#ff0000"/>
<line x1="441.28" y1="290.5" x2="441.28" y2="303.5" stroke="#ff0000" stroke-width="0.6" stroke-opacity="0.75"/>
<rect x="440.58" y="294.9" width="1.4" height="4.0" fill="#ff0000"/>
<line x1="443.44" y1="290.7" x2="443.44" y2="300.4" stroke="#ff0000" stroke-width="0.6" stroke-opacity="0.75"/>
<rect x="442.74" y="291.5" width="1.4" height="6.0" fill="#ff0000"/>
<line x1="445.59" y1="290.5" x2="445.59" y2="301.4" stroke="#00e400" stroke-width="0.6" stroke-opacity="0.75"/>
<rect x="444.89" y="292.0" width="1.4" height="7.0" fill="#00e400"/>
<line x1="447.75" y1="294.1" x2="447.75" y2="305.9" stroke="#00e400" stroke-width="0.6" stroke-opacity="0.75"/>
<rect x="447.05" y="294.9" width="1.4" height="8.3" fill="#00e400"/>
<line x1="449.91" y1="301.8" x2="449.91" y2="310.2" stroke="#00e400" stroke-width="0.6" stroke-opacity="0.75"/>
<rect x="449.21" y="302.7" width="1.4" height="6.7" fill="#00e400"/>
<line x1="452.07" y1="301.6" x2="452.07" y2="314.7" stroke="#ff0000" stroke-width="0.6" stroke-opacity="0.75"/>
<rect x="451.37" y="303.4" width="1.4" height="7.0" fill="#ff0000"/>
<line x1="454.23" y1="301.1" x2="454.23" y2="312.2" stroke="#00e400" stroke-width="0.6" stroke-opacity="0.75"/>
<rect x="453.53" y="305.7" width="1.4" height="3.3" fill="#00e400"/>
<line x1="456.39" y1="304.3" x2="456.39" y2="309.5" stroke="#ff0000" stroke-width="0.6" stroke-opacity="0.75"/>
<rect x="455.69" y="305.8" width="1.4" height="3.2" fill="#ff0000"/>
<line x1="458.55" y1="300.4" x2="458.55" y2="313.3" stroke="#ff0000" stroke-width="0.6" stroke-opacity="0.75"/>
<rect x="457.85" y="303.4" width="1.4" height="5.7" fill="#ff0000"/>
<line x1="460.71" y1="304.0" x2="460.71" y2="313.6" stroke="#00e400" stroke-width="0.6" stroke-opacity="0.75"/>
<rect x="460.01" y="306.4" width="1.4" height="2.9" fill="#00e400"/>
<line x1="462.87" y1="306.2" x2="462.87" y2="313.1" stroke="#00e400" stroke-width="0.6" stroke-opacity="0.75"/>
<rect x="462.17" y="307.7" width="1.4" height="3.4" fill="#00e400"/>
<line x1="465.03" y1="303.5" x2="465.03" y2="312.6" stroke="#ff0000" stroke-width="0.6" stroke-opacity="0.75"/>
<rect x="464.33" y="304.5" width="1.4" height="5.0" fill="#ff0000"/>
<line x1="467.18" y1="301.4" x2="467.18" y2="308.4" stroke="#ff0000" stroke-width="0.6" stroke-opacity="0.75"/>
<rect x="466.48" y="303.4" width="1.4" height="3.3" fill="#ff0000"/>
<line x1="469.34" y1="303.8" x2="469.34" y2="308.2" stroke="#00e400" stroke-width="0.6" stroke-opacity="0.75"/>
<rect x="468.64" y="304.8" width="1.4" height="1.6" fill="#00e400"/>
<line x1="471.50" y1="304.1" x2="471.50" y2="308.9" stroke="#ff0000" stroke-width="0.6" stroke-opacity="0.75"/>
<rect x="470.80" y="305.8" width="1.4" height="2.3" fill="#ff0000"/>
<line x1="473.66" y1="304.2" x2="473.66" y2="307.7" stroke="#00e400" stroke-width="0.6" stroke-opacity="0.75"/>
<rect x="472.96" y="305.5" width="1.4" height="1.3" fill="#00e400"/>
<line x1="475.82" y1="298.3" x2="475.82" y2="309.0" stroke="#ff0000" stroke-width="0.6" stroke-opacity="0.75"/>
<rect x="475.12" y="300.4" width="1.4" height="6.4" fill="#ff0000"/>
<line x1="477.98" y1="293.8" x2="477.98" y2="302.0" stroke="#ff0000" stroke-width="0.6" stroke-opacity="0.75"/>
<rect x="477.28" y="294.3" width="1.4" height="7.3" fill="#ff0000"/>
<line x1="480.14" y1="293.3" x2="480.14" y2="299.3" stroke="#00e400" stroke-width="0.6" stroke-opacity="0.75"/>
<rect x="479.44" y="294.9" width="1.4" height="3.5" fill="#00e400"/>
<line x1="482.30" y1="294.2" x2="482.30" y2="303.5" stroke="#00e400" stroke-width="0.6" stroke-opacity="0.75"/>
<rect x="481.60" y="296.8" width="1.4" height="3.8" fill="#00e400"/>
<line x1="484.46" y1="297.4" x2="484.46" y2="305.5" stroke="#00e400" stroke-width="0.6" stroke-opacity="0.75"/>
<rect x="483.76" y="298.2" width="1.4" height="4.0" fill="#00e400"/>
<line x1="486.62" y1="292.8" x2="486.62" y2="302.6" stroke="#ff0000" stroke-width="0.6" stroke-opacity="0.75"/>
<rect x="485.92" y="295.3" width="1.4" height="5.5" fill="#ff0000"/>
<line x1="488.77" y1="287.7" x2="488.77" y2="298.0" stroke="#ff0000" stroke-width="0.6" stroke-opacity="0.75"/>
<rect x="488.07" y="289.0" width="1.4" height="7.6" fill="#ff0000"/>
<line x1="490.93" y1="282.3" x2="490.93" y2="292.2" stroke="#ff0000" stroke-width="0.6" stroke-opacity="0.75"/>
<rect x="490.23" y="286.4" width="1.4" height="2.9" fill="#ff0000"/>
<line x1="493.09" y1="283.2" x2="493.09" y2="294.5" stroke="#00e400" stroke-width="0.6" stroke-opacity="0.75"/>
<rect x="492.39" y="288.0" width="1.4" height="3.8" fill="#00e400"/>
<line x1="495.25" y1="278.1" x2="495.25" y2="293.9" stroke="#ff0000" stroke-width="0.6" stroke-opacity="0.75"/>
<rect x="494.55" y="282.3" width="1.4" height="8.2" fill="#ff0000"/>
<line x1="497.41" y1="277.2" x2="497.41" y2="287.6" stroke="#ff0000" stroke-width="0.6" stroke-opacity="0.75"/>
<rect x="496.71" y="280.1" width="1.4" height="2.9" fill="#ff0000"/>
<line x1="499.57" y1="277.8" x2="499.57" y2="288.8" stroke="#00e400" stroke-width="0.6" stroke-opacity="0.75"/>
<rect x="498.87" y="278.7" width="1.4" height="7.9" fill="#00e400"/>
<line x1="501.73" y1="271.1" x2="501.73" y2="286.1" stroke="#ff0000" stroke-width="0.6" stroke-opacity="0.75"/>
<rect x="501.03" y="277.1" width="1.4" height="5.1" fill="#ff0000"/>
<line x1="503.89" y1="270.9" x2="503.89" y2="284.2" stroke="#ff0000" stroke-width="0.6" stroke-opacity="0.75"/>
<rect x="503.19" y="276.3" width="1.4" height="4.8" fill="#ff0000"/>
<line x1="506.05" y1="271.2" x2="506.05" y2="285.2" stroke="#00e400" stroke-width="0.6" stroke-opacity="0.75"/>
<rect x="505.35" y="277.0" width="1.4" height="7.0" fill="#00e400"/>
<line x1="508.21" y1="277.1" x2="508.21" y2="286.4" stroke="#00e400" stroke-width="0.6" stroke-opacity="0.75"/>
<rect x="507.51" y="278.7" width="1.4" height="5.3" fill="#00e400"/>
<line x1="510.36" y1="279.3" x2="510.36" y2="290.3" stroke="#00e400" stroke-width="0.6" stroke-opacity="0.75"/>
<rect x="509.66" y="280.8" width="1.4" height="7.8" fill="#00e400"/>
<line x1="512.52" y1="283.8" x2="512.52" y2="294.7" stroke="#00e400" stroke-width="0.6" stroke-opacity="0.75"/>
<rect x="511.82" y="287.4" width="1.4" height="5.7" fill="#00e400"/>
<line x1="514.68" y1="282.3" x2="514.68" y2="296.9" stroke="#ff0000" stroke-width="0.6" stroke-opacity="0.75"/>
<rect x="513.98" y="284.5" width="1.4" height="8.7" fill="#ff0000"/>
<line x1="516.84" y1="281.0" x2="516.84" y2="290.4" stroke="#ff0000" stroke-width="0.6" stroke-opacity="0.75"/>
<rect x="516.14" y="282.5" width="1.4" height="3.7" fill="#ff0000"/>
<line x1="519.00" y1="283.9" x2="519.00" y2="292.9" stroke="#00e400" stroke-width="0.6" stroke-opacity="0.75"/>
<rect x="518.30" y="284.9" width="1.4" height="5.7" fill="#00e400"/>
<line x1="521.16" y1="282.6" x2="521.16" y2="289.7" stroke="#ff0000" stroke-width="0.6" stroke-opacity="0.75"/>
<rect x="520.46" y="283.6" width="1.4" height="4.9" fill="#ff0000"/>
<line x1="523.32" y1="277.7" x2="523.32" y2="288.3" stroke="#ff0000" stroke-width="0.6" stroke-opacity="0.75"/>
<rect x="522.62" y="280.0" width="1.4" height="6.6" fill="#ff0000"/>
<line x1="525.48" y1="272.5" x2="525.48" y2="283.4" stroke="#ff0000" stroke-width="0.6" stroke-opacity="0.75"/>
<rect x="524.78" y="274.3" width="1.4" height="6.2" fill="#ff0000"/>
<line x1="527.64" y1="273.7" x2="527.64" y2="287.4" stroke="#00e400" stroke-width="0.6" stroke-opacity="0.75"/>
<rect x="526.94" y="277.9" width="1.4" height="4.9" fill="#00e400"/>
<line x1="529.80" y1="277.2" x2="529.80" y2="287.0" stroke="#00e400" stroke-width="0.6" stroke-opacity="0.75"/>
<rect x="529.10" y="280.7" width="1.4" height="4.9" fill="#00e400"/>
<line x1="531.95" y1="275.4" x2="531.95" y2="287.2" stroke="#ff0000" stroke-width="0.6" stroke-opacity="0.75"/>
<rect x="531.25" y="277.6" width="1.4" height="5.8" fill="#ff0000"/>
<line x1="534.11" y1="273.7" x2="534.11" y2="281.8" stroke="#ff0000" stroke-width="0.6" stroke-opacity="0.75"/>
<rect x="533.41" y="275.8" width="1.4" height="5.0" fill="#ff0000"/>
<line x1="536.27" y1="271.8" x2="536.27" y2="281.4" stroke="#ff0000" stroke-width="0.6" stroke-opacity="0.75"/>
<rect x="535.57" y="274.3" width="1.4" height="3.7" fill="#ff0000"/>
<line x1="538.43" y1="272.5" x2="538.43" y2="278.3" stroke="#ff0000" stroke-width="0.6" stroke-opacity="0.75"/>
<rect x="537.73" y="274.6" width="1.4" height="2.9" fill="#ff0000"/>
<line x1="540.59" y1="273.3" x2="540.59" y2="290.3" stroke="#00e400" stroke-width="0.6" stroke-opacity="0.75"/>
<rect x="539.89" y="275.4" width="1.4" height="11.6" fill="#00e400"/>
<line x1="344.10" y1="328.0" x2="344.10" y2="361.0" stroke="#ff0000" stroke-width="0.6" stroke-opacity="0.75"/>
<rect x="343.40" y="330.0" width="1.4" height="29.2" fill="#ff0000"/>
<line x1="152.10" y1="370.0" x2="152.10" y2="379.0" stroke="#ff0000" stroke-width="0.6" stroke-opacity="0.75"/>
<rect x="151.40" y="372.0" width="1.4" height="5.0" fill="#ff0000"/>
<line x1="154.30" y1="358.0" x2="154.30" y2="375.0" stroke="#ff0000" stroke-width="0.6" stroke-opacity="0.75"/>
<rect x="153.60" y="360.0" width="1.4" height="13.0" fill="#ff0000"/>
<line x1="156.40" y1="340.0" x2="156.40" y2="364.0" stroke="#ff0000" stroke-width="0.6" stroke-opacity="0.75"/>
<rect x="155.70" y="344.7" width="1.4" height="17.3" fill="#ff0000"/>
<line x1="158.50" y1="342.0" x2="158.50" y2="362.0" stroke="#00e400" stroke-width="0.6" stroke-opacity="0.75"/>
<rect x="157.80" y="343.9" width="1.4" height="8.0" fill="#00e400"/>
<line x1="160.70" y1="331.2" x2="160.70" y2="362.0" stroke="#ff0000" stroke-width="0.6" stroke-opacity="0.75"/>
<rect x="160.00" y="340.0" width="1.4" height="11.9" fill="#ff0000"/>
<line x1="162.90" y1="328.8" x2="162.90" y2="349.0" stroke="#00e400" stroke-width="0.6" stroke-opacity="0.75"/>
<rect x="162.20" y="340.0" width="1.4" height="7.5" fill="#00e400"/>
<line x1="165.00" y1="340.7" x2="165.00" y2="351.0" stroke="#ff0000" stroke-width="0.6" stroke-opacity="0.75"/>
<rect x="164.30" y="344.7" width="1.4" height="3.2" fill="#ff0000"/>
<line x1="167.10" y1="338.8" x2="167.10" y2="348.3" stroke="#ff0000" stroke-width="0.6" stroke-opacity="0.75"/>
<rect x="166.40" y="343.9" width="1.4" height="1.6" fill="#ff0000"/>
<line x1="169.30" y1="339.0" x2="169.30" y2="349.0" stroke="#00e400" stroke-width="0.6" stroke-opacity="0.75"/>
<rect x="168.60" y="343.9" width="1.4" height="3.2" fill="#00e400"/>
<line x1="171.50" y1="346.0" x2="171.50" y2="355.0" stroke="#00e400" stroke-width="0.6" stroke-opacity="0.75"/>
<rect x="170.80" y="347.1" width="1.4" height="6.4" fill="#00e400"/>
<line x1="173.50" y1="351.0" x2="173.50" y2="359.0" stroke="#00e400" stroke-width="0.6" stroke-opacity="0.75"/>
<rect x="172.80" y="352.7" width="1.4" height="4.8" fill="#00e400"/>
<line x1="175.50" y1="354.0" x2="175.50" y2="364.0" stroke="#00e400" stroke-width="0.6" stroke-opacity="0.75"/>
<rect x="174.80" y="355.9" width="1.4" height="6.1" fill="#00e400"/>
<line x1="177.60" y1="360.0" x2="177.60" y2="368.0" stroke="#00e400" stroke-width="0.6" stroke-opacity="0.75"/>
<rect x="176.90" y="362.0" width="1.4" height="4.0" fill="#00e400"/>
<line x1="179.80" y1="354.3" x2="179.80" y2="367.0" stroke="#ff0000" stroke-width="0.6" stroke-opacity="0.75"/>
<rect x="179.10" y="358.0" width="1.4" height="7.0" fill="#ff0000"/>
<line x1="181.90" y1="355.0" x2="181.90" y2="366.0" stroke="#00e400" stroke-width="0.6" stroke-opacity="0.75"/>
<rect x="181.20" y="358.0" width="1.4" height="5.0" fill="#00e400"/>
<line x1="543.10" y1="240.0" x2="543.10" y2="293.0" stroke="#ff0000" stroke-width="0.6" stroke-opacity="0.75"/>
<rect x="542.40" y="242.0" width="1.4" height="45.5" fill="#ff0000"/>
<line x1="545.20" y1="238.0" x2="545.20" y2="259.0" stroke="#ff0000" stroke-width="0.6" stroke-opacity="0.75"/>
<rect x="544.50" y="240.0" width="1.4" height="10.0" fill="#ff0000"/>
<line x1="547.40" y1="220.0" x2="547.40" y2="243.0" stroke="#ff0000" stroke-width="0.6" stroke-opacity="0.75"/>
<rect x="546.70" y="222.0" width="1.4" height="19.5" fill="#ff0000"/>
<line x1="549.50" y1="212.0" x2="549.50" y2="226.0" stroke="#ff0000" stroke-width="0.6" stroke-opacity="0.75"/>
<rect x="548.80" y="215.0" width="1.4" height="9.0" fill="#ff0000"/>
<line x1="551.70" y1="175.0" x2="551.70" y2="219.0" stroke="#ff0000" stroke-width="0.6" stroke-opacity="0.75"/>
<rect x="551.00" y="177.5" width="1.4" height="40.2" fill="#ff0000"/>
<line x1="553.80" y1="170.5" x2="553.80" y2="190.0" stroke="#ff0000" stroke-width="0.6" stroke-opacity="0.75"/>
<rect x="553.10" y="175.0" width="1.4" height="5.0" fill="#ff0000"/>
<line x1="555.90" y1="160.0" x2="555.90" y2="181.0" stroke="#ff0000" stroke-width="0.6" stroke-opacity="0.75"/>
<rect x="555.20" y="162.0" width="1.4" height="17.0" fill="#ff0000"/>
<line x1="558.00" y1="149.0" x2="558.00" y2="176.0" stroke="#ff0000" stroke-width="0.6" stroke-opacity="0.75"/>
<rect x="557.30" y="151.7" width="1.4" height="23.0" fill="#ff0000"/>
<line x1="560.10" y1="139.0" x2="560.10" y2="156.0" stroke="#ff0000" stroke-width="0.6" stroke-opacity="0.75"/>
<rect x="559.40" y="141.9" width="1.4" height="12.6" fill="#ff0000"/>
<line x1="562.50" y1="138.0" x2="562.50" y2="161.0" stroke="#00e400" stroke-width="0.6" stroke-opacity="0.75"/>
<rect x="561.80" y="141.9" width="1.4" height="17.4" fill="#00e400"/>
<line x1="564.60" y1="152.0" x2="564.60" y2="178.0" stroke="#00e400" stroke-width="0.6" stroke-opacity="0.75"/>
<rect x="563.90" y="153.8" width="1.4" height="22.3" fill="#00e400"/>
<line x1="566.60" y1="170.0" x2="566.60" y2="188.0" stroke="#00e400" stroke-width="0.6" stroke-opacity="0.75"/>
<rect x="565.90" y="171.9" width="1.4" height="14.0" fill="#00e400"/>
<line x1="568.70" y1="170.0" x2="568.70" y2="197.5" stroke="#ff0000" stroke-width="0.6" stroke-opacity="0.75"/>
<rect x="568.00" y="180.0" width="1.4" height="6.0" fill="#ff0000"/>
<line x1="570.80" y1="170.0" x2="570.80" y2="194.0" stroke="#00e400" stroke-width="0.6" stroke-opacity="0.75"/>
<rect x="570.10" y="171.9" width="1.4" height="21.0" fill="#00e400"/>
<line x1="572.90" y1="169.0" x2="572.90" y2="195.0" stroke="#ff0000" stroke-width="0.6" stroke-opacity="0.75"/>
<rect x="572.20" y="171.9" width="1.4" height="21.0" fill="#ff0000"/>
<line x1="575.00" y1="157.0" x2="575.00" y2="178.0" stroke="#ff0000" stroke-width="0.6" stroke-opacity="0.75"/>
<rect x="574.30" y="159.3" width="1.4" height="16.8" fill="#ff0000"/>
<line x1="577.40" y1="149.0" x2="577.40" y2="168.0" stroke="#ff0000" stroke-width="0.6" stroke-opacity="0.75"/>
<rect x="576.70" y="151.7" width="1.4" height="14.6" fill="#ff0000"/>
<line x1="579.50" y1="146.0" x2="579.50" y2="156.0" stroke="#ff0000" stroke-width="0.6" stroke-opacity="0.75"/>
<rect x="578.80" y="148.0" width="1.4" height="5.0" fill="#ff0000"/>
<line x1="581.70" y1="147.5" x2="581.70" y2="164.0" stroke="#00e400" stroke-width="0.6" stroke-opacity="0.75"/>
<rect x="581.00" y="151.0" width="1.4" height="11.1" fill="#00e400"/>
<line x1="583.80" y1="157.0" x2="583.80" y2="170.0" stroke="#ff0000" stroke-width="0.6" stroke-opacity="0.75"/>
<rect x="583.10" y="159.3" width="1.4" height="6.3" fill="#ff0000"/>
<line x1="585.90" y1="146.0" x2="585.90" y2="162.0" stroke="#ff0000" stroke-width="0.6" stroke-opacity="0.75"/>
<rect x="585.20" y="148.2" width="1.4" height="11.8" fill="#ff0000"/>
<line x1="588.00" y1="148.0" x2="588.00" y2="162.0" stroke="#00e400" stroke-width="0.6" stroke-opacity="0.75"/>
<rect x="587.30" y="150.3" width="1.4" height="9.7" fill="#00e400"/>
<line x1="590.10" y1="147.0" x2="590.10" y2="161.0" stroke="#ff0000" stroke-width="0.6" stroke-opacity="0.75"/>
<rect x="589.40" y="149.6" width="1.4" height="9.7" fill="#ff0000"/>
<line x1="592.50" y1="150.0" x2="592.50" y2="160.0" stroke="#00e400" stroke-width="0.6" stroke-opacity="0.75"/>
<rect x="591.80" y="153.0" width="1.4" height="5.0" fill="#00e400"/>
<line x1="594.90" y1="153.0" x2="594.90" y2="169.0" stroke="#00e400" stroke-width="0.6" stroke-opacity="0.75"/>
<rect x="594.20" y="155.2" width="1.4" height="11.8" fill="#00e400"/>
<line x1="597.00" y1="151.0" x2="597.00" y2="169.0" stroke="#ff0000" stroke-width="0.6" stroke-opacity="0.75"/>
<rect x="596.30" y="153.8" width="1.4" height="13.2" fill="#ff0000"/>
<line x1="599.10" y1="144.0" x2="599.10" y2="158.0" stroke="#ff0000" stroke-width="0.6" stroke-opacity="0.75"/>
<rect x="598.40" y="146.8" width="1.4" height="9.1" fill="#ff0000"/>
<line x1="601.20" y1="142.0" x2="601.20" y2="155.0" stroke="#ff0000" stroke-width="0.6" stroke-opacity="0.75"/>
<rect x="600.50" y="144.7" width="1.4" height="8.4" fill="#ff0000"/>
<line x1="603.30" y1="134.0" x2="603.30" y2="149.0" stroke="#ff0000" stroke-width="0.6" stroke-opacity="0.75"/>
<rect x="602.60" y="137.0" width="1.4" height="10.5" fill="#ff0000"/>
<line x1="605.50" y1="126.0" x2="605.50" y2="140.0" stroke="#ff0000" stroke-width="0.6" stroke-opacity="0.75"/>
<rect x="604.80" y="128.0" width="1.4" height="10.4" fill="#ff0000"/>
<line x1="607.50" y1="125.0" x2="607.50" y2="136.0" stroke="#00e400" stroke-width="0.6" stroke-opacity="0.75"/>
<rect x="606.80" y="127.0" width="1.4" height="7.2" fill="#00e400"/>
<line x1="609.60" y1="131.0" x2="609.60" y2="139.0" stroke="#00e400" stroke-width="0.6" stroke-opacity="0.75"/>
<rect x="608.90" y="133.5" width="1.4" height="2.8" fill="#00e400"/>
<line x1="612.10" y1="133.0" x2="612.10" y2="145.0" stroke="#00e400" stroke-width="0.6" stroke-opacity="0.75"/>
<rect x="611.40" y="135.6" width="1.4" height="7.7" fill="#00e400"/>
<line x1="614.20" y1="132.0" x2="614.20" y2="143.0" stroke="#ff0000" stroke-width="0.6" stroke-opacity="0.75"/>
<rect x="613.50" y="134.9" width="1.4" height="7.0" fill="#ff0000"/>
<line x1="616.50" y1="21.0" x2="616.50" y2="97.0" stroke="#ff0000" stroke-width="0.6" stroke-opacity="0.75"/>
<rect x="615.80" y="22.4" width="1.4" height="54.6" fill="#ff0000"/>
<line x1="618.60" y1="21.0" x2="618.60" y2="70.0" stroke="#00e400" stroke-width="0.6" stroke-opacity="0.75"/>
<rect x="617.90" y="22.0" width="1.4" height="46.0" fill="#00e400"/>
<line x1="620.60" y1="53.0" x2="620.60" y2="81.0" stroke="#00e400" stroke-width="0.6" stroke-opacity="0.75"/>
<rect x="619.90" y="55.0" width="1.4" height="24.0" fill="#00e400"/>
<line x1="622.60" y1="64.0" x2="622.60" y2="91.0" stroke="#00e400" stroke-width="0.6" stroke-opacity="0.75"/>
<rect x="621.90" y="66.0" width="1.4" height="13.0" fill="#00e400"/>
<line x1="625.00" y1="42.0" x2="625.00" y2="91.0" stroke="#ff0000" stroke-width="0.6" stroke-opacity="0.75"/>
<rect x="624.30" y="52.0" width="1.4" height="14.5" fill="#ff0000"/>
<line x1="627.00" y1="49.0" x2="627.00" y2="70.0" stroke="#00e400" stroke-width="0.6" stroke-opacity="0.75"/>
<rect x="626.30" y="50.5" width="1.4" height="17.5" fill="#00e400"/>
<line x1="629.00" y1="66.0" x2="629.00" y2="76.0" stroke="#00e400" stroke-width="0.6" stroke-opacity="0.75"/>
<rect x="628.30" y="68.0" width="1.4" height="6.0" fill="#00e400"/>
<line x1="631.00" y1="71.0" x2="631.00" y2="80.0" stroke="#00e400" stroke-width="0.6" stroke-opacity="0.75"/>
<rect x="630.30" y="73.0" width="1.4" height="4.0" fill="#00e400"/>
<line x1="632.60" y1="75.0" x2="632.60" y2="95.0" stroke="#00e400" stroke-width="0.6" stroke-opacity="0.75"/>
<rect x="631.90" y="76.7" width="1.4" height="16.6" fill="#00e400"/>
<line x1="634.30" y1="78.0" x2="634.30" y2="102.0" stroke="#ff0000" stroke-width="0.6" stroke-opacity="0.75"/>
<rect x="633.60" y="85.0" width="1.4" height="3.0" fill="#ff0000"/>
<line x1="636.00" y1="81.0" x2="636.00" y2="90.0" stroke="#ff0000" stroke-width="0.6" stroke-opacity="0.75"/>
<rect x="635.30" y="83.0" width="1.4" height="3.0" fill="#ff0000"/>
<line x1="637.90" y1="81.0" x2="637.90" y2="94.0" stroke="#00e400" stroke-width="0.6" stroke-opacity="0.75"/>
<rect x="637.20" y="83.0" width="1.4" height="9.0" fill="#00e400"/>
<line x1="639.80" y1="87.0" x2="639.80" y2="99.0" stroke="#00e400" stroke-width="0.6" stroke-opacity="0.75"/>
<rect x="639.10" y="89.0" width="1.4" height="8.0" fill="#00e400"/>
<line x1="642.30" y1="84.0" x2="642.30" y2="100.0" stroke="#ff0000" stroke-width="0.6" stroke-opacity="0.75"/>
<rect x="641.60" y="93.0" width="1.4" height="3.0" fill="#ff0000"/>
<line x1="644.20" y1="92.0" x2="644.20" y2="99.0" stroke="#ff0000" stroke-width="0.6" stroke-opacity="0.75"/>
<rect x="643.50" y="94.6" width="1.4" height="2.4" fill="#ff0000"/>
<line x1="646.60" y1="93.0" x2="646.60" y2="104.0" stroke="#00e400" stroke-width="0.6" stroke-opacity="0.75"/>
<rect x="645.90" y="95.0" width="1.4" height="7.0" fill="#00e400"/>
<line x1="648.70" y1="97.0" x2="648.70" y2="108.0" stroke="#00e400" stroke-width="0.6" stroke-opacity="0.75"/>
<rect x="648.00" y="99.0" width="1.4" height="6.0" fill="#00e400"/>
<line x1="650.80" y1="99.0" x2="650.80" y2="124.0" stroke="#00e400" stroke-width="0.6" stroke-opacity="0.75"/>
<rect x="650.10" y="101.0" width="1.4" height="17.0" fill="#00e400"/>
<line x1="653.10" y1="72.0" x2="653.10" y2="113.0" stroke="#ff0000" stroke-width="0.6" stroke-opacity="0.75"/>
<rect x="652.40" y="74.0" width="1.4" height="29.5" fill="#ff0000"/>
<line x1="655.20" y1="51.0" x2="655.20" y2="80.0" stroke="#ff0000" stroke-width="0.6" stroke-opacity="0.75"/>
<rect x="654.50" y="53.0" width="1.4" height="25.0" fill="#ff0000"/>
<line x1="657.50" y1="51.0" x2="657.50" y2="63.0" stroke="#00e400" stroke-width="0.6" stroke-opacity="0.75"/>
<rect x="656.80" y="53.0" width="1.4" height="8.0" fill="#00e400"/>
<line x1="659.60" y1="52.0" x2="659.60" y2="65.0" stroke="#00e400" stroke-width="0.6" stroke-opacity="0.75"/>
<rect x="658.90" y="54.0" width="1.4" height="8.0" fill="#00e400"/>
<line x1="661.80" y1="58.0" x2="661.80" y2="74.0" stroke="#00e400" stroke-width="0.6" stroke-opacity="0.75"/>
<rect x="661.10" y="60.0" width="1.4" height="12.0" fill="#00e400"/>
<line x1="664.00" y1="62.0" x2="664.00" y2="74.0" stroke="#ff0000" stroke-width="0.6" stroke-opacity="0.75"/>
<rect x="663.30" y="64.6" width="1.4" height="7.4" fill="#ff0000"/>
<line x1="666.00" y1="63.0" x2="666.00" y2="74.0" stroke="#00e400" stroke-width="0.6" stroke-opacity="0.75"/>
<rect x="665.30" y="65.0" width="1.4" height="7.0" fill="#00e400"/>
<line x1="668.00" y1="68.0" x2="668.00" y2="74.0" stroke="#ff0000" stroke-width="0.6" stroke-opacity="0.75"/>
<rect x="667.30" y="70.0" width="1.4" height="2.0" fill="#ff0000"/>
<polyline points="2.6,348.9 4.5,355.3 7.0,360.4 11.5,363.6 17.9,365.5 25.5,366.2 31.9,368.7 37.0,368.7 41.5,367.1 46.0,370.0 50.4,374.2 56.2,371.3 62.6,370.7 66.4,374.5 70.9,379.6 74.1,381.5 77.9,379.0 83.0,373.8 89.4,369.4 94.5,366.8 100.9,366.2 104.7,366.4 110.8,368.4 116.5,369.0 122.3,366.5 128.0,358.8 133.8,355.0 139.5,354.4 145.3,355.5 150.0,359.8 152.9,363.6 155.8,354.0 158.7,338.7 161.5,327.2 164.4,319.5 167.3,315.7 170.2,314.3 172.1,316.6 174.0,323.3 176.3,328.7 181.7,328.1 186.5,331.0 190.3,336.8 194.1,346.3 198.9,353.0 204.7,357.8 210.4,355.9 215.2,357.5 219.5,360.1 223.3,363.8 228.5,361.6 234.5,360.1 238.3,360.8 240.5,363.1 243.6,357.1 247.3,354.0 251.1,355.5 254.8,360.1 258.6,366.1 263.1,371.3 267.6,373.6 269.9,370.6 272.9,363.8 276.6,360.8 282.6,359.3 288.6,360.1 293.1,361.6 297.7,362.8 300.7,360.8 302.9,352.5 306.7,347.3 312.7,345.0 318.7,344.7 321.7,348.0 324.0,348.8 327.0,344.3 331.5,340.8 336.7,342.0 341.2,341.3 343.0,338.6 345.6,330.0 348.2,319.7 350.4,309.5 352.5,298.3 354.6,285.7 356.7,271.7 358.7,259.2 360.8,253.6 362.9,254.3 364.6,259.2 366.4,269.0 369.2,275.2 372.7,280.8 376.9,280.8 379.7,287.1 383.2,293.4 386.0,296.2 388.1,288.5 390.2,275.9 392.3,269.7 394.4,267.8 397.9,270.4 402.1,273.8 406.3,275.2 409.7,275.2 411.8,278.0 413.9,285.7 416.0,291.3 418.8,294.1 424.4,293.4 427.2,292.0 429.3,287.1 431.4,280.1 434.2,275.9 438.4,274.5 444.0,274.8 448.2,274.3 450.3,273.1 452.6,278.1 456.1,286.4 461.0,287.4 465.1,291.3 467.2,298.3 470.0,302.5 474.2,302.5 477.7,296.9 481.2,291.3 484.7,289.2 488.2,285.0 491.7,281.5 495.2,278.1 498.7,270.4 501.5,265.5 505.0,263.7 509.9,265.5 515.4,264.5 521.0,266.9 526.6,268.3 532.2,267.6 536.4,269.0 539.9,266.9 542.7,268.3 544.8,250.0 547.6,228.9 549.7,207.9 551.1,194.0 552.5,170.0 553.2,156.9 554.6,136.0 556.0,120.6 558.2,103.9 560.3,82.9 562.4,71.8 564.5,79.5 566.8,85.0 568.6,96.9 570.7,113.7 572.0,122.0 573.4,126.9 576.9,126.2 579.7,121.3 581.8,120.6 583.9,126.2 586.0,128.3 588.8,124.8 592.3,126.2 593.7,134.6 595.8,140.8 597.9,143.6 601.4,141.5 603.5,138.1 604.9,130.4 607.0,122.0 609.2,116.5 612.0,112.3 615.8,111.4 616.5,103.5 616.9,80.0 617.5,25.6 618.7,15.3 620.7,2.6 621.6,-4.0" fill="none" stroke="#5c5cf0" stroke-width="0.9" stroke-linejoin="round"/>
<polyline points="636.2,-4.0 637.0,2.6 637.9,12.8 639.2,29.4 640.1,39.0 643.7,38.3 646.2,43.4 648.1,56.2 649.9,62.7 651.9,67.8 653.1,71.0 654.4,67.1 655.7,58.8 656.4,51.1 657.7,38.3 659.6,28.1 662.2,21.1 665.4,16.6 667.9,15.3 670.2,16.6" fill="none" stroke="#5c5cf0" stroke-width="0.9" stroke-linejoin="round"/>
<polyline points="2.6,369.6 7.7,371.3 15.3,373.0 23.0,373.2 30.7,374.5 38.3,377.0 46.0,379.0 53.6,382.1 61.3,385.3 69.0,387.9 74.1,388.8 79.2,387.5 86.8,384.1 94.5,379.6 102.2,376.4 105.0,375.1 112.7,374.1 120.3,374.1 128.0,372.2 135.7,369.7 143.3,369.7 151.0,372.2 154.8,373.2 158.7,369.3 162.5,364.5 168.3,356.9 173.0,351.1 176.9,349.2 181.7,351.1 187.4,356.9 193.2,363.6 200.8,367.4 208.5,369.3 216.2,370.9 221.0,372.1 228.5,372.1 234.5,369.8 240.5,368.8 246.6,370.9 252.6,374.3 258.6,376.9 264.6,378.1 270.6,376.6 276.6,373.6 282.6,371.8 288.6,371.3 294.7,371.8 299.9,370.9 305.2,367.6 311.2,363.8 317.2,360.1 323.2,357.1 329.2,354.5 335.2,353.3 342.2,354.0 347.3,351.5 352.5,345.5 356.8,336.0 360.2,326.6 363.1,318.0 366.4,312.3 369.2,308.1 372.7,306.4 376.9,307.4 381.1,310.2 384.6,310.9 388.1,308.1 392.3,302.5 396.5,298.3 400.7,296.2 406.3,295.5 410.4,296.9 414.6,299.7 418.8,300.4 424.4,299.0 430.0,296.2 434.2,294.1 439.8,293.4 445.6,293.8 449.8,296.2 454.0,300.4 459.6,303.9 465.1,306.0 470.7,307.4 476.3,306.0 481.9,303.2 487.5,299.7 493.1,295.5 498.7,292.0 504.3,287.8 508.5,284.3 512.6,283.6 518.2,284.1 523.8,284.3 529.4,284.3 535.0,282.2 539.2,280.4 543.4,279.9 546.2,276.0 549.0,269.7 551.8,262.0 553.9,251.0 557.4,231.7 560.8,210.7 563.6,195.4 566.4,186.3 567.8,184.0 569.9,179.3 572.7,173.7 576.2,169.5 579.7,166.7 583.2,168.8 586.7,168.1 590.2,163.9 593.7,159.7 597.9,156.9 602.1,155.5 604.9,152.7 609.0,147.1 613.2,144.3 616.7,140.8 618.8,133.2 619.4,125.0 622.4,110.9 625.2,99.7 628.9,89.5 632.0,80.6 635.2,74.2 637.8,69.7 639.1,71.0 641.0,76.7 644.2,80.6 647.4,85.7 649.9,91.4 652.5,95.2 654.4,95.2 657.6,91.4 661.4,85.7 664.6,81.2 666.5,78.6 669.0,75.0 671.0,72.0" fill="none" stroke="#5c5cf0" stroke-width="0.9" stroke-linejoin="round"/>
<polyline points="2.6,387.3 5.1,382.8 8.9,380.2 14.0,379.6 20.4,380.9 28.1,380.2 31.9,381.5 37.0,383.4 40.9,386.6 46.0,387.9 51.1,387.5 54.9,391.1 58.7,396.2 62.6,400.0 66.4,400.0 71.5,397.5 76.6,396.2 81.7,396.8 86.8,394.9 92.0,391.1 98.3,387.9 103.4,385.3 107.3,381.0 110.8,378.9 116.5,379.9 122.3,381.8 128.0,384.7 133.8,385.6 139.5,383.7 145.3,381.8 151.0,383.7 154.8,386.6 157.7,392.3 160.6,400.0 161.5,404.0 163.0,412.0 168.0,412.0 170.2,398.1 172.1,390.4 174.0,378.9 175.9,369.3 178.8,371.3 183.6,376.0 187.4,380.8 191.3,384.7 195.1,381.8 200.8,380.5 206.6,378.0 210.4,380.8 216.2,383.7 219.5,383.4 224.0,381.1 228.5,381.8 233.0,379.6 237.5,376.6 240.5,375.1 242.8,381.1 245.8,387.1 250.3,389.8 254.8,390.1 259.3,386.8 263.1,382.9 267.6,380.8 269.9,382.6 272.9,386.8 276.6,386.8 282.6,384.9 288.6,382.9 294.7,381.1 299.2,380.3 301.4,382.6 302.9,387.9 305.2,390.1 308.2,387.9 312.7,382.6 317.2,376.6 320.2,369.8 322.5,366.1 326.2,369.4 329.2,369.1 333.7,366.1 339.7,364.9 342.7,367.6 345.6,374.7 348.2,382.4 350.8,386.7 353.3,392.7 355.9,398.7 357.6,401.3 359.3,400.4 361.1,394.4 362.8,383.2 364.5,367.8 366.2,354.1 367.9,346.3 370.5,336.9 373.1,332.6 377.4,332.6 380.8,328.3 385.1,324.9 387.7,327.4 390.2,334.3 392.3,336.9 394.5,333.5 397.1,326.6 400.5,321.4 404.8,318.0 407.6,315.8 411.1,313.0 414.6,307.4 418.8,305.3 424.4,303.2 427.2,301.8 428.9,303.9 430.7,309.5 434.2,312.3 439.8,312.5 444.2,313.0 448.4,315.1 454.0,316.5 459.6,319.3 463.7,320.0 467.2,316.5 470.0,313.0 474.2,311.6 478.4,314.4 482.6,317.6 486.8,315.8 490.3,315.1 493.8,314.4 497.3,312.3 500.8,313.7 504.3,310.9 507.1,305.3 509.2,300.4 512.6,303.2 516.8,301.8 521.0,301.1 526.6,301.8 531.5,301.1 533.6,296.9 537.8,294.8 541.3,292.7 543.2,294.0 544.4,307.3 548.0,319.3 551.6,333.6 554.0,350.4 556.3,356.4 559.9,352.8 562.3,340.8 564.7,316.9 567.1,288.1 568.8,264.2 569.5,250.0 570.6,235.9 572.0,220.5 573.4,215.6 576.9,213.5 581.1,213.2 583.9,209.3 588.1,207.9 590.2,201.0 593.0,196.1 594.4,184.2 595.1,175.1 597.2,169.5 599.3,168.8 602.1,170.2 604.9,175.1 607.7,180.7 611.1,178.6 613.9,176.5 616.2,173.7 616.7,177.9 617.4,194.0 618.1,214.9 618.8,235.9 620.2,238.4 622.3,234.5 625.8,224.7 628.6,217.7 630.7,207.9 632.8,192.6 634.9,180.0 635.9,164.0 636.5,144.7 637.8,125.6 639.1,116.6 640.4,113.4 641.6,116.6 643.5,120.4 646.1,124.9 648.0,120.4 649.9,119.2 651.9,121.7 653.8,122.4 655.7,128.1 657.6,138.3 659.5,145.4 661.4,148.3 664.0,146.0 666.5,141.5 669.1,135.1 670.8,130.7" fill="none" stroke="#5c5cf0" stroke-width="0.9" stroke-linejoin="round"/>
</g>
<polygon points="444.2,295.1 535.0,293.9 535.1,295.4 541.5,292.7 535.0,290.2 535.0,291.7 444.2,294.1" fill="#ffb020"/>
<polygon points="549.2,172.5 603.1,172.3 603.1,173.9 609.6,171.2 603.1,168.7 603.1,170.3 549.2,171.5" fill="#ffb020"/>
<polygon points="612.9,106.1 644.3,104.8 644.4,106.2 650.2,103.4 644.1,101.3 644.2,102.8 612.9,105.1" fill="#ffb020"/>
<polygon points="543.3,292.9 677.1,68.0 678.2,68.7 679.0,61.6 673.2,65.7 674.3,66.4 542.5,292.3" fill="#ff1010"/>
<rect x="2" y="2" width="838" height="1" fill="#6a6ae6"/>
<rect x="2" y="2" width="1" height="487" fill="#6a6ae6"/>
<rect x="839" y="2" width="1.1" height="487" fill="#6a6ae6"/>
<rect x="2" y="403.7" width="838" height="1.6" fill="#6a6ae6"/>
<rect x="2" y="487.9" width="838" height="1.1" fill="#6a6ae6"/>
<rect x="839.5" y="9.7" width="1.3" height="1" fill="#6a6ae6"/>
<text x="842.0" y="12.0" font-family="Liberation Sans, Arial, sans-serif" font-size="6.2" fill="#2a2ad8" stroke="#2a2ad8" stroke-width="0.18" textLength="17.8" lengthAdjust="spacingAndGlyphs">1896.70</text>
<rect x="839.5" y="27.3" width="1.3" height="1" fill="#6a6ae6"/>
<text x="842.0" y="29.6" font-family="Liberation Sans, Arial, sans-serif" font-size="6.2" fill="#2a2ad8" stroke="#2a2ad8" stroke-width="0.18" textLength="17.8" lengthAdjust="spacingAndGlyphs">1892.60</text>
<rect x="839.5" y="45.1" width="1.3" height="1" fill="#6a6ae6"/>
<text x="842.0" y="47.4" font-family="Liberation Sans, Arial, sans-serif" font-size="6.2" fill="#2a2ad8" stroke="#2a2ad8" stroke-width="0.18" textLength="17.8" lengthAdjust="spacingAndGlyphs">1888.50</text>
<rect x="839.5" y="63.0" width="1.3" height="1" fill="#6a6ae6"/>
<text x="842.0" y="65.3" font-family="Liberation Sans, Arial, sans-serif" font-size="6.2" fill="#2a2ad8" stroke="#2a2ad8" stroke-width="0.18" textLength="17.8" lengthAdjust="spacingAndGlyphs">1884.50</text>
<rect x="839.5" y="80.9" width="1.3" height="1" fill="#6a6ae6"/>
<text x="842.0" y="83.2" font-family="Liberation Sans, Arial, sans-serif" font-size="6.2" fill="#2a2ad8" stroke="#2a2ad8" stroke-width="0.18" textLength="17.8" lengthAdjust="spacingAndGlyphs">1880.40</text>
<rect x="839.5" y="98.6" width="1.3" height="1" fill="#6a6ae6"/>
<text x="842.0" y="100.9" font-family="Liberation Sans, Arial, sans-serif" font-size="6.2" fill="#2a2ad8" stroke="#2a2ad8" stroke-width="0.18" textLength="17.8" lengthAdjust="spacingAndGlyphs">1876.40</text>
<rect x="839.5" y="116.5" width="1.3" height="1" fill="#6a6ae6"/>
<text x="842.0" y="118.8" font-family="Liberation Sans, Arial, sans-serif" font-size="6.2" fill="#2a2ad8" stroke="#2a2ad8" stroke-width="0.18" textLength="17.8" lengthAdjust="spacingAndGlyphs">1872.30</text>
<rect x="839.5" y="134.5" width="1.3" height="1" fill="#6a6ae6"/>
<text x="842.0" y="136.8" font-family="Liberation Sans, Arial, sans-serif" font-size="6.2" fill="#2a2ad8" stroke="#2a2ad8" stroke-width="0.18" textLength="17.8" lengthAdjust="spacingAndGlyphs">1868.30</text>
<rect x="839.5" y="152.2" width="1.3" height="1" fill="#6a6ae6"/>
<text x="842.0" y="154.5" font-family="Liberation Sans, Arial, sans-serif" font-size="6.2" fill="#2a2ad8" stroke="#2a2ad8" stroke-width="0.18" textLength="17.8" lengthAdjust="spacingAndGlyphs">1864.20</text>
<rect x="839.5" y="169.9" width="1.3" height="1" fill="#6a6ae6"/>
<text x="842.0" y="172.2" font-family="Liberation Sans, Arial, sans-serif" font-size="6.2" fill="#2a2ad8" stroke="#2a2ad8" stroke-width="0.18" textLength="17.8" lengthAdjust="spacingAndGlyphs">1860.20</text>
<rect x="839.5" y="187.9" width="1.3" height="1" fill="#6a6ae6"/>
<text x="842.0" y="190.2" font-family="Liberation Sans, Arial, sans-serif" font-size="6.2" fill="#2a2ad8" stroke="#2a2ad8" stroke-width="0.18" textLength="17.8" lengthAdjust="spacingAndGlyphs">1856.10</text>
<rect x="839.5" y="205.5" width="1.3" height="1" fill="#6a6ae6"/>
<text x="842.0" y="207.8" font-family="Liberation Sans, Arial, sans-serif" font-size="6.2" fill="#2a2ad8" stroke="#2a2ad8" stroke-width="0.18" textLength="17.8" lengthAdjust="spacingAndGlyphs">1852.10</text>
<rect x="839.5" y="223.5" width="1.3" height="1" fill="#6a6ae6"/>
<text x="842.0" y="225.8" font-family="Liberation Sans, Arial, sans-serif" font-size="6.2" fill="#2a2ad8" stroke="#2a2ad8" stroke-width="0.18" textLength="17.8" lengthAdjust="spacingAndGlyphs">1848.00</text>
<rect x="839.5" y="241.5" width="1.3" height="1" fill="#6a6ae6"/>
<text x="842.0" y="243.8" font-family="Liberation Sans, Arial, sans-serif" font-size="6.2" fill="#2a2ad8" stroke="#2a2ad8" stroke-width="0.18" textLength="17.8" lengthAdjust="spacingAndGlyphs">1844.00</text>
<rect x="839.5" y="259.2" width="1.3" height="1" fill="#6a6ae6"/>
<text x="842.0" y="261.5" font-family="Liberation Sans, Arial, sans-serif" font-size="6.2" fill="#2a2ad8" stroke="#2a2ad8" stroke-width="0.18" textLength="17.8" lengthAdjust="spacingAndGlyphs">1839.90</text>
<rect x="839.5" y="276.9" width="1.3" height="1" fill="#6a6ae6"/>
<text x="842.0" y="279.2" font-family="Liberation Sans, Arial, sans-serif" font-size="6.2" fill="#2a2ad8" stroke="#2a2ad8" stroke-width="0.18" textLength="17.8" lengthAdjust="spacingAndGlyphs">1835.90</text>
<rect x="839.5" y="294.8" width="1.3" height="1" fill="#6a6ae6"/>
<text x="842.0" y="297.1" font-family="Liberation Sans, Arial, sans-serif" font-size="6.2" fill="#2a2ad8" stroke="#2a2ad8" stroke-width="0.18" textLength="17.8" lengthAdjust="spacingAndGlyphs">1831.80</text>
<rect x="839.5" y="312.8" width="1.3" height="1" fill="#6a6ae6"/>
<text x="842.0" y="315.1" font-family="Liberation Sans, Arial, sans-serif" font-size="6.2" fill="#2a2ad8" stroke="#2a2ad8" stroke-width="0.18" textLength="17.8" lengthAdjust="spacingAndGlyphs">1827.80</text>
<rect x="839.5" y="330.7" width="1.3" height="1" fill="#6a6ae6"/>
<text x="842.0" y="333.0" font-family="Liberation Sans, Arial, sans-serif" font-size="6.2" fill="#2a2ad8" stroke="#2a2ad8" stroke-width="0.18" textLength="17.8" lengthAdjust="spacingAndGlyphs">1823.70</text>
<rect x="839.5" y="348.5" width="1.3" height="1" fill="#6a6ae6"/>
<text x="842.0" y="350.8" font-family="Liberation Sans, Arial, sans-serif" font-size="6.2" fill="#2a2ad8" stroke="#2a2ad8" stroke-width="0.18" textLength="17.8" lengthAdjust="spacingAndGlyphs">1819.70</text>
<rect x="839.5" y="366.2" width="1.3" height="1" fill="#6a6ae6"/>
<text x="842.0" y="368.5" font-family="Liberation Sans, Arial, sans-serif" font-size="6.2" fill="#2a2ad8" stroke="#2a2ad8" stroke-width="0.18" textLength="17.8" lengthAdjust="spacingAndGlyphs">1815.60</text>
<rect x="839.5" y="384.1" width="1.3" height="1" fill="#6a6ae6"/>
<text x="842.0" y="386.4" font-family="Liberation Sans, Arial, sans-serif" font-size="6.2" fill="#2a2ad8" stroke="#2a2ad8" stroke-width="0.18" textLength="17.8" lengthAdjust="spacingAndGlyphs">1811.50</text>
<rect x="839.5" y="401.8" width="1.3" height="1" fill="#6a6ae6"/>
<text x="842.0" y="404.1" font-family="Liberation Sans, Arial, sans-serif" font-size="6.2" fill="#2a2ad8" stroke="#2a2ad8" stroke-width="0.18" textLength="17.8" lengthAdjust="spacingAndGlyphs">1807.50</text>
<rect x="840" y="67.6" width="22" height="6" fill="#1010c8"/>
<text x="842.0" y="72.5" font-family="Liberation Sans, Arial, sans-serif" font-size="6.2" fill="#ffffff" textLength="17.8" lengthAdjust="spacingAndGlyphs">1882.89</text>
<text x="841" y="410.8" font-family="Liberation Sans, Arial, sans-serif" font-size="6.2" fill="#2a2ad8" stroke="#2a2ad8" stroke-width="0.18" textLength="7.6" lengthAdjust="spacingAndGlyphs">100</text>
<text x="841" y="424.3" font-family="Liberation Sans, Arial, sans-serif" font-size="6.2" fill="#2a2ad8" stroke="#2a2ad8" stroke-width="0.18" textLength="5.2" lengthAdjust="spacingAndGlyphs">80</text>
<text x="841" y="473.8" font-family="Liberation Sans, Arial, sans-serif" font-size="6.2" fill="#2a2ad8" stroke="#2a2ad8" stroke-width="0.18" textLength="5.2" lengthAdjust="spacingAndGlyphs">20</text>
<text x="841" y="487.0" font-family="Liberation Sans, Arial, sans-serif" font-size="6.2" fill="#2a2ad8" stroke="#2a2ad8" stroke-width="0.18" textLength="2.7" lengthAdjust="spacingAndGlyphs">0</text>
<line x1="3" y1="422.3" x2="839" y2="422.3" stroke="#c2c2c2" stroke-width="0.9" stroke-dasharray="1.3 2.0"/>
<line x1="3" y1="471.9" x2="839" y2="471.9" stroke="#c2c2c2" stroke-width="0.9" stroke-dasharray="1.3 2.0"/>
<g clip-path="url(#cs)">
<polyline points="3.0,456.0 5.2,449.0 7.3,443.0 9.5,438.1 11.6,441.7 13.8,452.8 16.0,463.4 18.1,472.5 20.3,472.6 22.4,464.8 24.6,450.9 26.7,441.5 28.9,440.9 31.1,448.0 33.2,458.6 35.4,462.1 37.5,462.4 39.7,459.6 41.9,458.5 44.0,455.8 46.2,453.1 48.3,454.9 50.5,460.5 52.7,468.7 54.8,475.7 57.0,479.8 59.1,480.8 61.3,478.9 63.5,474.3 65.6,466.0 67.8,453.1 69.9,438.6 72.1,429.0 74.2,424.9 76.4,425.0 78.6,424.2 80.7,422.7 82.9,424.8 85.0,427.7 87.2,430.7 89.4,427.6 91.5,424.0 93.7,422.5 95.8,425.7 98.0,431.1 100.2,437.5 102.3,444.1 104.5,451.0 106.6,454.5 108.8,453.0 110.9,442.8 113.1,436.9 115.3,439.0 117.4,451.5 119.6,459.2 121.7,458.1 123.9,447.7 126.1,434.2 128.2,421.8 130.4,416.2 132.5,419.0 134.7,431.6 136.9,449.9 139.0,463.5 141.2,468.9 143.3,466.4 145.5,464.5 147.7,461.9 149.8,457.9 152.0,454.7 154.1,448.9 156.3,441.1 158.4,430.8 160.6,424.9 162.8,424.6 164.9,428.0 167.1,433.2 169.2,439.0 171.4,447.0 173.6,457.4 175.7,469.8 177.9,476.2 180.0,476.0 182.2,470.3 184.4,465.7 186.5,465.9 188.7,468.6 190.8,472.2 193.0,469.5 195.2,458.7 197.3,441.1 199.5,426.3 201.6,420.9 203.8,428.3 205.9,443.6 208.1,460.6 210.3,470.3 212.4,470.9 214.6,465.1 216.7,457.0 218.9,446.8 221.1,436.5 223.2,426.1 225.4,419.9 227.5,415.2 229.7,415.4 231.9,417.8 234.0,424.6 236.2,434.1 238.3,446.2 240.5,459.4 242.6,471.1 244.8,478.4 247.0,479.1 249.1,473.2 251.3,463.8 253.4,455.8 255.6,450.5 257.8,446.9 259.9,440.6 262.1,437.5 264.2,439.0 266.4,448.1 268.6,449.5 270.7,441.8 272.9,428.0 275.0,421.4 277.2,423.1 279.4,428.6 281.5,437.2 283.7,448.8 285.8,462.3 288.0,470.4 290.1,467.7 292.3,454.2 294.5,437.1 296.6,428.5 298.8,428.2 300.9,430.3 303.1,428.6 305.3,427.8 307.4,431.7 309.6,436.1 311.7,440.0 313.9,443.9 316.1,450.2 318.2,452.5 320.4,448.8 322.5,438.0 324.7,426.6 326.8,419.0 329.0,419.5 331.2,429.3 333.3,445.2 335.5,460.7 337.6,471.5 339.8,476.5 342.0,475.6 344.1,464.9 346.3,445.7 348.4,428.5 350.6,419.9 352.8,418.9 354.9,417.2 357.1,416.6 359.2,419.4 361.4,427.0 363.6,438.1 365.7,450.6 367.9,463.6 370.0,470.8 372.2,473.8 374.3,470.5 376.5,464.5 378.7,453.6 380.8,440.8 383.0,429.1 385.1,420.4 387.3,416.6 389.5,414.6 391.6,415.4 393.8,417.9 395.9,426.2 398.1,439.7 400.3,455.3 402.4,468.5 404.6,473.0 406.7,467.5 408.9,454.8 411.1,443.5 413.2,438.7 415.4,441.5 417.5,447.3 419.7,451.1 421.8,450.8 424.0,447.4 426.2,446.0 428.3,439.9 430.5,433.4 432.6,424.7 434.8,428.3 437.0,439.3 439.1,455.9 441.3,465.5 443.4,467.6 445.6,464.2 447.8,461.0 449.9,461.2 452.1,464.0 454.2,468.4 456.4,471.4 458.5,471.0 460.7,467.3 462.9,461.2 465.0,454.7 467.2,446.1 469.3,439.0 471.5,434.6 473.7,435.4 475.8,434.4 478.0,432.0 480.1,428.1 482.3,429.4 484.5,435.0 486.6,441.3 488.8,443.3 490.9,440.3 493.1,436.2 495.3,432.9 497.4,432.6 499.6,434.0 501.7,438.4 503.9,438.1 506.0,436.9 508.2,434.8 510.4,441.1 512.5,451.8 514.7,458.4 516.8,456.0 519.0,447.3 521.2,439.5 523.3,432.5 525.5,425.8 527.6,424.1 529.8,427.6 532.0,434.0 534.1,436.3 536.3,434.5 538.4,433.5 540.6,437.0 542.8,438.1 544.9,434.1 547.1,424.5 549.2,417.9 551.4,413.6 553.5,411.0 555.7,410.2 557.9,410.5 560.0,410.9 562.2,412.1 564.3,418.6 566.5,433.1 568.7,450.8 570.8,464.4 573.0,468.1 575.1,462.0 577.3,446.9 579.5,428.4 581.6,417.3 583.8,416.1 585.9,422.3 588.1,428.4 590.2,432.7 592.4,437.1 594.6,442.7 596.7,447.9 598.9,447.5 601.0,437.9 603.2,425.7 605.4,416.1 607.5,413.5 609.7,416.8 611.8,425.5 614.0,438.0 616.2,438.4 618.3,433.8 620.5,426.4 622.6,430.2 624.8,435.7 627.0,440.9 629.1,446.5 631.3,454.6 633.4,462.0 635.6,465.5 637.7,464.4 639.9,462.5 642.1,462.3 644.2,464.2 646.4,466.7 648.5,469.6 650.7,468.9 652.9,461.5 655.0,444.7 657.2,427.3 659.3,416.9 661.5,417.0 663.7,424.6 665.8,436.9 668.0,452.2" fill="none" stroke="#ff2020" stroke-width="1.1" stroke-dasharray="1.1 1.4"/>
<polyline points="2.8,457.5 7.0,429.7 10.2,444.5 13.9,464.9 17.9,481.2 21.3,457.5 24.0,439.0 26.8,436.2 29.6,451.9 32.9,469.5 35.1,458.4 38.8,461.6 42.5,453.8 45.9,450.5 48.5,461.2 51.8,474.1 54.9,482.1 58.3,480.6 62.0,475.1 64.7,461.2 67.5,439.0 69.9,424.2 73.1,425.7 77.7,424.2 80.5,419.6 83.2,432.5 86.9,430.7 89.7,420.1 92.5,421.4 95.3,429.7 98.0,437.1 101.4,448.2 104.5,457.9 108.2,451.9 111.0,427.0 113.2,437.1 115.6,455.6 117.8,466.7 121.2,453.8 123.9,433.4 125.8,420.5 128.2,412.2 130.4,416.8 133.2,431.6 135.0,453.8 136.9,471.9 140.6,466.7 143.4,464.0 146.1,463.0 149.8,451.9 152.1,453.8 154.5,439.0 157.2,423.3 160.2,422.3 163.3,428.8 166.1,436.2 169.8,446.4 172.6,464.9 175.7,482.1 178.7,474.1 180.9,466.7 184.2,462.1 186.8,471.4 190.5,474.7 192.9,463.0 195.3,439.0 197.2,420.5 199.4,417.7 201.6,424.2 204.0,444.5 206.4,468.6 208.3,476.0 210.5,471.4 213.3,463.0 216.0,451.9 218.8,435.3 221.2,426.0 223.1,416.8 225.3,416.4 227.5,412.5 229.9,417.7 232.7,426.0 235.5,440.8 238.2,459.3 241.0,476.0 243.4,482.8 246.0,480.6 248.4,466.7 250.8,453.8 253.0,451.9 255.8,446.4 258.2,441.8 260.1,431.6 262.3,438.1 264.5,448.2 266.4,460.3 268.2,444.5 270.6,424.2 272.8,418.3 275.2,422.3 277.5,429.7 279.9,436.2 282.6,455.6 284.5,470.4 286.3,476.9 288.6,470.4 291.0,448.2 292.8,429.7 294.7,419.6 296.5,429.7 298.9,434.4 301.1,426.0 303.0,424.6 305.2,431.6 307.6,439.0 310.0,438.1 312.8,446.4 316.1,457.5 319.2,446.4 321.5,431.6 323.9,416.8 326.3,414.0 328.5,422.3 330.7,440.8 333.1,463.0 335.9,475.1 339.6,479.7 341.8,472.3 343.7,451.9 345.1,429.7 346.6,418.6 349.8,419.6 352.5,418.6 355.0,414.0 357.2,417.7 359.6,427.9 361.8,439.0 364.6,457.5 367.7,476.0 370.1,472.3 372.5,473.2 375.1,463.0 377.5,448.2 379.9,431.6 382.5,420.5 384.9,414.0 387.3,416.4 389.5,413.1 392.3,417.7 394.7,427.9 396.9,446.4 399.2,466.7 402.1,478.2 404.3,472.3 406.6,455.6 409.0,439.0 411.4,436.2 414.0,441.8 416.4,451.9 418.2,455.3 421.0,448.2 423.8,443.6 426.2,447.3 428.4,427.9 430.6,424.2 432.5,419.6 434.3,435.3 436.7,455.6 439.5,473.2 442.3,465.8 444.7,461.2 447.8,459.0 450.6,465.8 453.9,472.3 456.5,473.2 459.5,464.9 462.6,455.6 465.0,448.2 467.2,435.3 470.5,432.5 473.3,439.0 476.1,429.7 479.8,425.1 482.6,435.3 485.0,446.8 487.6,444.5 490.0,436.2 492.7,433.4 495.5,430.1 497.9,435.3 500.1,438.1 502.0,444.5 503.8,433.4 506.6,433.8 509.0,439.0 510.9,457.5 512.7,466.7 514.9,455.6 517.2,443.6 520.5,436.2 522.7,427.0 525.1,417.7 527.5,427.9 529.7,435.3 532.5,439.0 534.9,433.4 536.8,428.8 539.0,437.1 540.8,447.3 542.7,433.4 545.5,420.5 548.2,414.9 551.0,410.3 553.8,409.4 556.6,411.6 559.7,410.3 562.1,414.0 564.0,426.0 565.8,448.2 567.7,464.9 570.4,472.3 573.2,464.9 575.1,450.1 576.9,429.7 578.4,414.9 579.7,409.0 581.9,416.8 584.3,424.2 587.1,431.6 589.3,437.1 590.8,434.4 593.0,444.5 594.9,451.9 597.3,451.0 599.1,439.0 601.0,422.3 603.4,414.0 605.6,411.2 607.8,414.9 609.7,424.2 612.1,439.0 614.3,453.8 615.2,435.3 616.7,420.5 619.5,426.0 622.5,437.1 625.3,440.8 628.1,448.2 630.3,461.2 632.2,467.7 634.6,466.7 637.0,462.1 638.8,460.3 641.4,463.0 643.8,466.7 646.2,468.6 648.8,473.2 651.2,463.0 653.1,444.5 654.5,426.0 655.8,415.9 657.7,411.6 659.9,416.8 662.3,426.0 664.7,442.7 666.6,459.3 668.4,471.9" fill="none" stroke="#35b8b0" stroke-width="0.8" stroke-linejoin="round"/>
</g>
<rect x="2.5" y="488.5" width="1" height="1.6" fill="#6a6ae6"/>
<text x="2.4" y="496" font-family="Liberation Sans, Arial, sans-serif" font-size="6.2" fill="#2a2ad8" stroke="#2a2ad8" stroke-width="0.18" textLength="25.2" lengthAdjust="spacingAndGlyphs">7 Mar 2023</text>
<rect x="37.0" y="488.5" width="1" height="1.6" fill="#6a6ae6"/>
<text x="36.9" y="496" font-family="Liberation Sans, Arial, sans-serif" font-size="6.2" fill="#2a2ad8" stroke="#2a2ad8" stroke-width="0.18" textLength="26.6" lengthAdjust="spacingAndGlyphs">8 Mar 03:00</text>
<rect x="71.6" y="488.5" width="1" height="1.6" fill="#6a6ae6"/>
<text x="71.5" y="496" font-family="Liberation Sans, Arial, sans-serif" font-size="6.2" fill="#2a2ad8" stroke="#2a2ad8" stroke-width="0.18" textLength="26.6" lengthAdjust="spacingAndGlyphs">8 Mar 07:00</text>
<rect x="106.1" y="488.5" width="1" height="1.6" fill="#6a6ae6"/>
<text x="106.0" y="496" font-family="Liberation Sans, Arial, sans-serif" font-size="6.2" fill="#2a2ad8" stroke="#2a2ad8" stroke-width="0.18" textLength="26.6" lengthAdjust="spacingAndGlyphs">8 Mar 11:00</text>
<rect x="140.7" y="488.5" width="1" height="1.6" fill="#6a6ae6"/>
<text x="140.6" y="496" font-family="Liberation Sans, Arial, sans-serif" font-size="6.2" fill="#2a2ad8" stroke="#2a2ad8" stroke-width="0.18" textLength="26.6" lengthAdjust="spacingAndGlyphs">8 Mar 15:00</text>
<rect x="175.2" y="488.5" width="1" height="1.6" fill="#6a6ae6"/>
<text x="175.2" y="496" font-family="Liberation Sans, Arial, sans-serif" font-size="6.2" fill="#2a2ad8" stroke="#2a2ad8" stroke-width="0.18" textLength="26.6" lengthAdjust="spacingAndGlyphs">8 Mar 19:00</text>
<rect x="209.8" y="488.5" width="1" height="1.6" fill="#6a6ae6"/>
<text x="209.7" y="496" font-family="Liberation Sans, Arial, sans-serif" font-size="6.2" fill="#2a2ad8" stroke="#2a2ad8" stroke-width="0.18" textLength="26.6" lengthAdjust="spacingAndGlyphs">8 Mar 23:00</text>
<rect x="244.3" y="488.5" width="1" height="1.6" fill="#6a6ae6"/>
<text x="244.2" y="496" font-family="Liberation Sans, Arial, sans-serif" font-size="6.2" fill="#2a2ad8" stroke="#2a2ad8" stroke-width="0.18" textLength="26.6" lengthAdjust="spacingAndGlyphs">9 Mar 04:00</text>
<rect x="278.9" y="488.5" width="1" height="1.6" fill="#6a6ae6"/>
<text x="278.8" y="496" font-family="Liberation Sans, Arial, sans-serif" font-size="6.2" fill="#2a2ad8" stroke="#2a2ad8" stroke-width="0.18" textLength="26.6" lengthAdjust="spacingAndGlyphs">9 Mar 08:00</text>
<rect x="313.4" y="488.5" width="1" height="1.6" fill="#6a6ae6"/>
<text x="313.3" y="496" font-family="Liberation Sans, Arial, sans-serif" font-size="6.2" fill="#2a2ad8" stroke="#2a2ad8" stroke-width="0.18" textLength="26.6" lengthAdjust="spacingAndGlyphs">9 Mar 12:00</text>
<rect x="348.0" y="488.5" width="1" height="1.6" fill="#6a6ae6"/>
<text x="347.9" y="496" font-family="Liberation Sans, Arial, sans-serif" font-size="6.2" fill="#2a2ad8" stroke="#2a2ad8" stroke-width="0.18" textLength="26.6" lengthAdjust="spacingAndGlyphs">9 Mar 16:00</text>
<rect x="382.5" y="488.5" width="1" height="1.6" fill="#6a6ae6"/>
<text x="382.4" y="496" font-family="Liberation Sans, Arial, sans-serif" font-size="6.2" fill="#2a2ad8" stroke="#2a2ad8" stroke-width="0.18" textLength="26.6" lengthAdjust="spacingAndGlyphs">9 Mar 20:00</text>
<rect x="417.1" y="488.5" width="1" height="1.6" fill="#6a6ae6"/>
<text x="417.0" y="496" font-family="Liberation Sans, Arial, sans-serif" font-size="6.2" fill="#2a2ad8" stroke="#2a2ad8" stroke-width="0.18" textLength="29.4" lengthAdjust="spacingAndGlyphs">10 Mar 01:00</text>
<rect x="451.6" y="488.5" width="1" height="1.6" fill="#6a6ae6"/>
<text x="451.5" y="496" font-family="Liberation Sans, Arial, sans-serif" font-size="6.2" fill="#2a2ad8" stroke="#2a2ad8" stroke-width="0.18" textLength="29.4" lengthAdjust="spacingAndGlyphs">10 Mar 05:00</text>
<rect x="486.2" y="488.5" width="1" height="1.6" fill="#6a6ae6"/>
<text x="486.1" y="496" font-family="Liberation Sans, Arial, sans-serif" font-size="6.2" fill="#2a2ad8" stroke="#2a2ad8" stroke-width="0.18" textLength="29.4" lengthAdjust="spacingAndGlyphs">10 Mar 09:00</text>
<rect x="520.8" y="488.5" width="1" height="1.6" fill="#6a6ae6"/>
<text x="520.6" y="496" font-family="Liberation Sans, Arial, sans-serif" font-size="6.2" fill="#2a2ad8" stroke="#2a2ad8" stroke-width="0.18" textLength="29.4" lengthAdjust="spacingAndGlyphs">10 Mar 13:00</text>
<rect x="555.3" y="488.5" width="1" height="1.6" fill="#6a6ae6"/>
<text x="555.2" y="496" font-family="Liberation Sans, Arial, sans-serif" font-size="6.2" fill="#2a2ad8" stroke="#2a2ad8" stroke-width="0.18" textLength="29.4" lengthAdjust="spacingAndGlyphs">10 Mar 17:00</text>
<rect x="589.8" y="488.5" width="1" height="1.6" fill="#6a6ae6"/>
<text x="589.7" y="496" font-family="Liberation Sans, Arial, sans-serif" font-size="6.2" fill="#2a2ad8" stroke="#2a2ad8" stroke-width="0.18" textLength="29.4" lengthAdjust="spacingAndGlyphs">10 Mar 21:00</text>
<rect x="624.4" y="488.5" width="1" height="1.6" fill="#6a6ae6"/>
<text x="624.3" y="496" font-family="Liberation Sans, Arial, sans-serif" font-size="6.2" fill="#2a2ad8" stroke="#2a2ad8" stroke-width="0.18" textLength="29.4" lengthAdjust="spacingAndGlyphs">13 Mar 02:00</text>
<rect x="658.9" y="488.5" width="1" height="1.6" fill="#6a6ae6"/>
<text x="658.8" y="496" font-family="Liberation Sans, Arial, sans-serif" font-size="6.2" fill="#2a2ad8" stroke="#2a2ad8" stroke-width="0.18" textLength="29.4" lengthAdjust="spacingAndGlyphs">13 Mar 06:00</text>
<polygon points="4.7,6.1 8.5,6.1 6.6,8.0" fill="#0000c8"/>
<text x="10.8" y="8.6" font-family="Liberation Sans, Arial, sans-serif" font-size="6.2" fill="#2a2ad8" stroke="#2a2ad8" stroke-width="0.18" textLength="36" lengthAdjust="spacingAndGlyphs">XAUUSD#,M15</text>
<text x="50.3" y="8.6" font-family="Liberation Sans, Arial, sans-serif" font-size="6.2" fill="#2a2ad8" stroke="#2a2ad8" stroke-width="0.18" textLength="76" lengthAdjust="spacingAndGlyphs">1882.54 1883.34 1882.54 1882.89</text>
<text x="5" y="412.2" font-family="Liberation Sans, Arial, sans-serif" font-size="6.2" fill="#2a2ad8" stroke="#2a2ad8" stroke-width="0.18" textLength="65" lengthAdjust="spacingAndGlyphs">Stoch(5,3,3) 19.9574 40.0381</text>
<text x="461.8" y="18.2" font-family="Liberation Sans, Noto Sans CJK TC, Noto Sans CJK SC, sans-serif" fill="#444444" font-size="12" textLength="120" lengthAdjust="spacingAndGlyphs">壓力 1909.56至1913.46</text>
<text x="662" y="115.3" font-family="Liberation Sans, Noto Sans CJK TC, Noto Sans CJK SC, sans-serif" fill="#444444" font-size="12" textLength="121" lengthAdjust="spacingAndGlyphs">支撐 1872.11至1875.18</text>
<text x="4.2" y="402.3" font-family="Liberation Sans, Noto Sans CJK TC, Noto Sans CJK SC, sans-serif" fill="#444444" font-size="12.4" textLength="158" lengthAdjust="spacingAndGlyphs">2023年3月13日 黃金15分鐘K線</text>
</svg></body></html>
